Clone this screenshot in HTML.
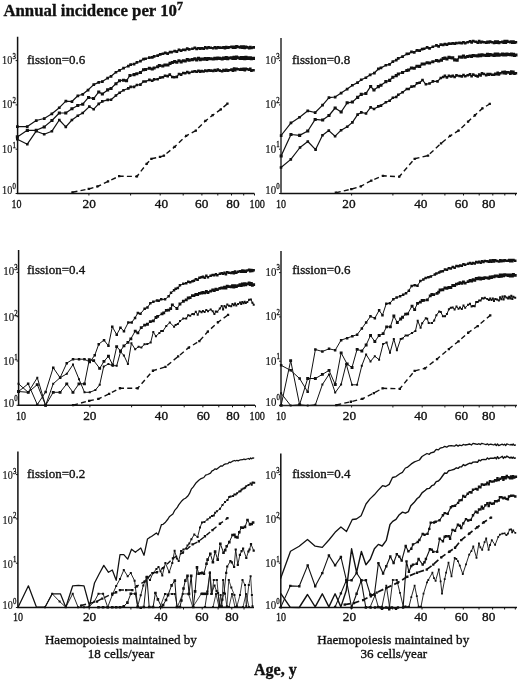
<!DOCTYPE html>
<html><head><meta charset="utf-8"><style>
html,body{margin:0;padding:0;background:#fff;}
body{width:520px;height:681px;position:relative;overflow:hidden;font-family:"Liberation Serif",serif;}
text{stroke:#111;stroke-width:0.35px;}
</style></head><body>
<svg width="520" height="681" viewBox="0 0 520 681" style="position:absolute;left:0;top:0;filter:grayscale(1);font-family:'Liberation Serif', serif" fill="#111">
<path d="M17.6 36.8V193.5H254.4" fill="none" stroke="#111" stroke-width="1.5"/>
<path d="M17.6 193.5h-2M17.6 149.2h-2M17.6 104.9h-2M17.6 60.6h-2M88.9 193.5v2M130.6 193.5v2M160.2 193.5v2M183.2 193.5v2M201.9 193.5v2M217.8 193.5v2M231.5 193.5v2M243.7 193.5v2M254.5 193.5v2" stroke="#111" stroke-width="1"/>
<path d="M18.6 250V405.3H255" fill="none" stroke="#111" stroke-width="1.5"/>
<path d="M18.6 405.3h-2M18.6 361h-2M18.6 316.7h-2M18.6 272.4h-2M89.9 405.3v2M131.6 405.3v2M161.2 405.3v2M184.2 405.3v2M202.9 405.3v2M218.8 405.3v2M232.5 405.3v2M244.7 405.3v2M255.5 405.3v2" stroke="#111" stroke-width="1"/>
<path d="M17.9 451.5V607.5H254" fill="none" stroke="#111" stroke-width="1.5"/>
<path d="M17.9 607.5h-2M17.9 563.2h-2M17.9 518.9h-2M17.9 474.6h-2M89.2 607.5v2M130.9 607.5v2M160.5 607.5v2M183.5 607.5v2M202.2 607.5v2M218.1 607.5v2M231.8 607.5v2M244 607.5v2" stroke="#111" stroke-width="1"/>
<path d="M280.8 453.5V607.5H517" fill="none" stroke="#111" stroke-width="1.5"/>
<path d="M280.8 607.5h-2M280.8 563.2h-2M280.8 518.9h-2M280.8 474.6h-2M351.4 607.5v2M392.7 607.5v2M422 607.5v2M444.7 607.5v2M463.3 607.5v2M479 607.5v2M492.6 607.5v2M504.6 607.5v2M515.3 607.5v2" stroke="#111" stroke-width="1"/>
<path d="M281 38V193.5H517" fill="none" stroke="#111" stroke-width="1.5"/>
<path d="M281 193.5h-2M281 149.2h-2M281 104.9h-2M281 60.6h-2M351.6 193.5v2M392.9 193.5v2M422.2 193.5v2M444.9 193.5v2M463.5 193.5v2M479.2 193.5v2M492.8 193.5v2M504.8 193.5v2M515.5 193.5v2" stroke="#111" stroke-width="1"/>
<path d="M281 38V193" stroke="#666" stroke-width="1.7"/>
<path d="M281 251V405.5H517" fill="none" stroke="#222" stroke-width="1.5"/>
<path d="M281 405.5h-2M281 361.2h-2M281 316.9h-2M281 272.6h-2M351.6 405.5v2M392.9 405.5v2M422.2 405.5v2M444.9 405.5v2M463.5 405.5v2M479.2 405.5v2M492.8 405.5v2M504.8 405.5v2M515.5 405.5v2" stroke="#222" stroke-width="1"/>
<polyline points="17.3,126.6 27.3,126.6 36.2,120.5 44.2,118.5 51.9,113.8 59.3,107.7 65.8,101.1 71.9,101.5 77.8,95.8 82.7,94.3 88,90 93.7,84.6 98.7,82.4 102.3,81.5 107.7,78 111,76.3 115.9,72.3 119.6,70.3 123.5,68.2 128.3,66 130.6,64.5 134,64.1 136.9,62.5 140.4,61.2 143.5,59.1 145.6,58.7 149.4,57.5 152.2,57.4 154.2,56.4 157.6,55.6 160.2,54.4 162.9,53.8 165.2,52.9 167.7,53.5 170,52.2 171.5,52.1 174.6,51.2 176.8,51.6 179,49.8 181.1,50.7 183.3,49.7 185.2,49.9 187.2,48.5 189.2,49.3 192.4,48.8 194.8,48 196.7,48.9 198.5,48.2 200.2,48.6 201.6,48.3 203.6,48.5 205.3,47.4 207,48.2 208.6,47.3 210.7,47.7 213.3,48.2 214.8,47.3 216.3,48.1 217.8,47.4 219.8,47.6 222.1,47.7 223.5,47.2 224.9,48.1 226.3,47 227.6,47.8 229,47.4 231.5,46.8 232.8,47.7 234.1,46.8 235.3,47.8 236.6,46.5 238.1,47 240.2,47.4 241.3,46.6 242.5,47.7 243.7,46.5 244.8,47.9 245.9,47 247.3,47.4 249.2,48.2 250.3,47.2 251.4,47.8 253.7,47.4" fill="none" stroke="#111" stroke-width="1.2" stroke-linejoin="round"/>
<path d="M16 125.2h2.7v2.7h-2.7zM25.9 125.2h2.7v2.7h-2.7zM34.9 119.2h2.7v2.7h-2.7zM42.9 117.2h2.7v2.7h-2.7zM50.5 112.5h2.7v2.7h-2.7zM57.9 106.4h2.7v2.7h-2.7zM64.5 99.8h2.7v2.7h-2.7zM70.6 100.2h2.7v2.7h-2.7zM76.5 94.5h2.7v2.7h-2.7zM81.4 93h2.7v2.7h-2.7zM86.7 88.7h2.7v2.7h-2.7zM92.4 83.2h2.7v2.7h-2.7zM97.4 81.1h2.7v2.7h-2.7zM101 80.2h2.7v2.7h-2.7zM106.3 76.7h2.7v2.7h-2.7zM109.7 75h2.7v2.7h-2.7zM114.6 70.9h2.7v2.7h-2.7zM118.2 69h2.7v2.7h-2.7zM122.2 66.8h2.7v2.7h-2.7zM127 64.7h2.7v2.7h-2.7zM129.3 63.2h2.7v2.7h-2.7zM132.7 62.7h2.7v2.7h-2.7zM135.6 61.1h2.7v2.7h-2.7zM139.1 59.8h2.7v2.7h-2.7zM142.2 57.8h2.7v2.7h-2.7zM144.2 57.4h2.7v2.7h-2.7zM148 56.2h2.7v2.7h-2.7zM150.9 56h2.7v2.7h-2.7zM152.8 55h2.7v2.7h-2.7zM156.3 54.2h2.7v2.7h-2.7zM158.9 53h2.7v2.7h-2.7zM161.6 52.4h2.7v2.7h-2.7zM163.9 51.6h2.7v2.7h-2.7zM166.3 52.2h2.7v2.7h-2.7zM168.7 50.8h2.7v2.7h-2.7zM170.2 50.8h2.7v2.7h-2.7zM173.3 49.8h2.7v2.7h-2.7zM175.5 50.2h2.7v2.7h-2.7zM177.6 48.5h2.7v2.7h-2.7zM179.8 49.3h2.7v2.7h-2.7zM182 48.4h2.7v2.7h-2.7zM183.9 48.6h2.7v2.7h-2.7zM185.9 47.2h2.7v2.7h-2.7zM187.8 48h2.7v2.7h-2.7zM191.1 47.4h2.7v2.7h-2.7zM193.5 46.6h2.7v2.7h-2.7zM195.3 47.6h2.7v2.7h-2.7zM197.1 46.9h2.7v2.7h-2.7zM198.9 47.3h2.7v2.7h-2.7zM200.2 46.9h2.7v2.7h-2.7zM202.3 47.2h2.7v2.7h-2.7zM204 46h2.7v2.7h-2.7zM205.6 46.9h2.7v2.7h-2.7zM207.2 46h2.7v2.7h-2.7zM209.3 46.4h2.7v2.7h-2.7zM211.9 46.9h2.7v2.7h-2.7zM213.5 45.9h2.7v2.7h-2.7zM215 46.8h2.7v2.7h-2.7zM216.5 46.1h2.7v2.7h-2.7zM218.5 46.2h2.7v2.7h-2.7zM220.8 46.4h2.7v2.7h-2.7zM222.2 45.9h2.7v2.7h-2.7zM223.6 46.7h2.7v2.7h-2.7zM224.9 45.7h2.7v2.7h-2.7zM226.3 46.4h2.7v2.7h-2.7zM227.7 46h2.7v2.7h-2.7zM230.2 45.4h2.7v2.7h-2.7zM231.5 46.3h2.7v2.7h-2.7zM232.7 45.5h2.7v2.7h-2.7zM234 46.4h2.7v2.7h-2.7zM235.2 45.1h2.7v2.7h-2.7zM236.8 45.6h2.7v2.7h-2.7zM238.8 46.1h2.7v2.7h-2.7zM240 45.3h2.7v2.7h-2.7zM241.2 46.3h2.7v2.7h-2.7zM242.3 45.2h2.7v2.7h-2.7zM243.4 46.6h2.7v2.7h-2.7zM244.6 45.6h2.7v2.7h-2.7zM246 46h2.7v2.7h-2.7zM247.9 46.8h2.7v2.7h-2.7zM249 45.8h2.7v2.7h-2.7zM250 46.5h2.7v2.7h-2.7zM252.3 46h2.7v2.7h-2.7z" fill="#111"/>
<polyline points="17.3,136.9 27.3,130.3 36.2,130.3 44.2,126.9 51.9,120.5 59.3,113 65.8,113 71.9,108.8 77.8,105.4 82.7,104.2 88.5,97.4 93.6,98.6 98.8,91.9 102.3,94 107.7,89.9 111,88.4 115.9,83.7 119.6,80.7 123.5,80.2 126.5,80.7 130,75.5 134,74.6 136.9,73.7 140.4,72.5 143.5,69.8 145.6,69.4 149.4,68.3 152.2,69 154.2,68 157.6,66.8 159.4,65.6 162.8,65.9 165,65.1 168,65.1 170,63.4 172.4,62.5 174.6,61.6 176.8,62.2 179,60.7 181.1,61.8 183.3,60.7 185.2,60.9 187.2,59.6 189.2,60.2 192.4,59.6 194.8,58.8 196.7,59.8 198.5,58.3 200.2,59.7 201.6,58.9 203.6,59.2 205.3,58.4 207,59.4 208.6,58.6 210.7,58.7 213.3,59 214.8,58.3 216.3,58.7 217.8,58.2 219.8,58.3 222.1,58.9 223.5,57.9 224.9,58.5 226.3,57.7 227.6,58.8 229,58 231.5,57.7 232.8,58.4 234.1,57.4 235.3,58.6 236.6,57.1 238.1,57.8 240.2,58.6 241.3,57.6 242.5,58.4 243.7,57.6 244.8,58.7 245.9,57.3 247,58.3 248.1,57.9 249.2,58.5 250.3,57.9 251.4,58.7 253.5,58.3" fill="none" stroke="#111" stroke-width="1.2" stroke-linejoin="round"/>
<path d="M15.8 135.3h3.1v3.1h-3.1zM25.8 128.8h3.1v3.1h-3.1zM34.7 128.8h3.1v3.1h-3.1zM42.7 125.4h3.1v3.1h-3.1zM50.4 119h3.1v3.1h-3.1zM57.8 111.5h3.1v3.1h-3.1zM64.2 111.5h3.1v3.1h-3.1zM70.4 107.2h3.1v3.1h-3.1zM76.2 103.9h3.1v3.1h-3.1zM81.2 102.7h3.1v3.1h-3.1zM87 95.9h3.1v3.1h-3.1zM92 97h3.1v3.1h-3.1zM97.2 90.4h3.1v3.1h-3.1zM100.8 92.5h3.1v3.1h-3.1zM106.1 88.3h3.1v3.1h-3.1zM109.5 86.9h3.1v3.1h-3.1zM114.4 82.2h3.1v3.1h-3.1zM118 79.2h3.1v3.1h-3.1zM122 78.7h3.1v3.1h-3.1zM125 79.2h3.1v3.1h-3.1zM128.4 74h3.1v3.1h-3.1zM132.5 73.1h3.1v3.1h-3.1zM135.3 72.2h3.1v3.1h-3.1zM138.9 71h3.1v3.1h-3.1zM142 68.2h3.1v3.1h-3.1zM144 67.9h3.1v3.1h-3.1zM147.8 66.7h3.1v3.1h-3.1zM150.7 67.5h3.1v3.1h-3.1zM152.6 66.5h3.1v3.1h-3.1zM156.1 65.2h3.1v3.1h-3.1zM157.8 64h3.1v3.1h-3.1zM161.2 64.4h3.1v3.1h-3.1zM163.4 63.5h3.1v3.1h-3.1zM166.4 63.5h3.1v3.1h-3.1zM168.5 61.8h3.1v3.1h-3.1zM170.8 61h3.1v3.1h-3.1zM173.1 60.1h3.1v3.1h-3.1zM175.3 60.7h3.1v3.1h-3.1zM177.4 59.2h3.1v3.1h-3.1zM179.6 60.3h3.1v3.1h-3.1zM181.8 59.2h3.1v3.1h-3.1zM183.7 59.4h3.1v3.1h-3.1zM185.7 58.1h3.1v3.1h-3.1zM187.6 58.6h3.1v3.1h-3.1zM190.8 58.1h3.1v3.1h-3.1zM193.3 57.3h3.1v3.1h-3.1zM195.1 58.3h3.1v3.1h-3.1zM196.9 56.8h3.1v3.1h-3.1zM198.7 58.1h3.1v3.1h-3.1zM200 57.4h3.1v3.1h-3.1zM202.1 57.6h3.1v3.1h-3.1zM203.8 56.9h3.1v3.1h-3.1zM205.4 57.8h3.1v3.1h-3.1zM207 57h3.1v3.1h-3.1zM209.1 57.2h3.1v3.1h-3.1zM211.7 57.5h3.1v3.1h-3.1zM213.3 56.7h3.1v3.1h-3.1zM214.8 57.1h3.1v3.1h-3.1zM216.3 56.6h3.1v3.1h-3.1zM218.2 56.8h3.1v3.1h-3.1zM220.6 57.3h3.1v3.1h-3.1zM222 56.4h3.1v3.1h-3.1zM223.4 56.9h3.1v3.1h-3.1zM224.7 56.1h3.1v3.1h-3.1zM226.1 57.2h3.1v3.1h-3.1zM227.4 56.5h3.1v3.1h-3.1zM230 56.2h3.1v3.1h-3.1zM231.3 56.8h3.1v3.1h-3.1zM232.5 55.8h3.1v3.1h-3.1zM233.8 57h3.1v3.1h-3.1zM235 55.6h3.1v3.1h-3.1zM236.5 56.2h3.1v3.1h-3.1zM238.6 57h3.1v3.1h-3.1zM239.8 56h3.1v3.1h-3.1zM241 56.8h3.1v3.1h-3.1zM242.1 56h3.1v3.1h-3.1zM243.2 57.2h3.1v3.1h-3.1zM244.4 55.7h3.1v3.1h-3.1zM245.5 56.8h3.1v3.1h-3.1zM246.6 56.3h3.1v3.1h-3.1zM247.7 56.9h3.1v3.1h-3.1zM248.8 56.3h3.1v3.1h-3.1zM249.8 57.2h3.1v3.1h-3.1zM251.9 56.8h3.1v3.1h-3.1z" fill="#111"/>
<polyline points="17.3,139.2 27.3,144.2 36.2,131.2 44.2,134.3 51.9,131.2 59.3,120 65.8,126.9 71.9,120 77.8,115.8 82.7,113 89.3,106.6 93.7,109.2 98.7,103.9 102.3,101.4 107.7,99.9 111,99.7 115.9,95.5 119.6,92.8 123.5,90.2 128.3,88.4 130.6,86.9 134,86.9 136.9,85 140.4,84.6 143.5,81.5 145.6,81.5 149.4,79.9 152.2,80.7 154.2,79.4 157.6,79.3 160.2,77.6 162.9,77.2 165,75.7 167.7,76.1 169.8,74.6 172.3,77 174.1,77.2 176.8,76.9 179,74 181.1,74.6 183.3,73 185.2,73.3 187.2,72.1 189.2,72.9 192.4,71.7 194.8,71.3 196.7,71.7 198.5,70.9 200.2,71.6 201.6,71.1 203.6,71.5 205.3,70.6 207,71 208.6,70.4 210.7,70.6 213.3,70.9 214.8,70.1 216.3,70.8 217.8,69.6 219.8,70.6 222.1,71.3 223.5,70.1 224.9,70.8 226.3,69.8 227.6,70.8 229,70.2 231.5,69.6 232.8,70.8 234.1,68.6 235.3,70.2 236.6,68.8 238.1,69.3 240.2,69.6 241.3,69 242.5,69.8 243.7,68.8 244.8,70.2 245.9,68.9 247.3,69.3 249.2,69.8 250.3,68.7 251.4,70.6 253.5,70.2" fill="none" stroke="#111" stroke-width="1.2" stroke-linejoin="round"/>
<path d="M16 137.9h2.6v2.6h-2.6zM26 142.9h2.6v2.6h-2.6zM34.9 129.9h2.6v2.6h-2.6zM42.9 133h2.6v2.6h-2.6zM50.6 129.9h2.6v2.6h-2.6zM58 118.7h2.6v2.6h-2.6zM64.5 125.6h2.6v2.6h-2.6zM70.6 118.7h2.6v2.6h-2.6zM76.5 114.5h2.6v2.6h-2.6zM81.4 111.7h2.6v2.6h-2.6zM88 105.3h2.6v2.6h-2.6zM92.4 107.9h2.6v2.6h-2.6zM97.4 102.6h2.6v2.6h-2.6zM101 100.1h2.6v2.6h-2.6zM106.4 98.6h2.6v2.6h-2.6zM109.7 98.4h2.6v2.6h-2.6zM114.6 94.2h2.6v2.6h-2.6zM118.3 91.5h2.6v2.6h-2.6zM122.2 88.9h2.6v2.6h-2.6zM127 87.1h2.6v2.6h-2.6zM129.3 85.6h2.6v2.6h-2.6zM132.7 85.6h2.6v2.6h-2.6zM135.6 83.7h2.6v2.6h-2.6zM139.1 83.3h2.6v2.6h-2.6zM142.2 80.2h2.6v2.6h-2.6zM144.3 80.2h2.6v2.6h-2.6zM148.1 78.6h2.6v2.6h-2.6zM150.9 79.4h2.6v2.6h-2.6zM152.9 78.1h2.6v2.6h-2.6zM156.3 78h2.6v2.6h-2.6zM158.9 76.3h2.6v2.6h-2.6zM161.6 75.9h2.6v2.6h-2.6zM163.7 74.4h2.6v2.6h-2.6zM166.4 74.8h2.6v2.6h-2.6zM168.5 73.3h2.6v2.6h-2.6zM171 75.7h2.6v2.6h-2.6zM172.8 75.9h2.6v2.6h-2.6zM175.5 75.6h2.6v2.6h-2.6zM177.7 72.7h2.6v2.6h-2.6zM179.8 73.3h2.6v2.6h-2.6zM182 71.7h2.6v2.6h-2.6zM183.9 72h2.6v2.6h-2.6zM185.9 70.8h2.6v2.6h-2.6zM187.9 71.6h2.6v2.6h-2.6zM191.1 70.4h2.6v2.6h-2.6zM193.5 70h2.6v2.6h-2.6zM195.4 70.4h2.6v2.6h-2.6zM197.2 69.6h2.6v2.6h-2.6zM198.9 70.3h2.6v2.6h-2.6zM200.3 69.8h2.6v2.6h-2.6zM202.3 70.2h2.6v2.6h-2.6zM204 69.3h2.6v2.6h-2.6zM205.7 69.7h2.6v2.6h-2.6zM207.3 69.1h2.6v2.6h-2.6zM209.4 69.3h2.6v2.6h-2.6zM212 69.6h2.6v2.6h-2.6zM213.5 68.8h2.6v2.6h-2.6zM215 69.5h2.6v2.6h-2.6zM216.5 68.3h2.6v2.6h-2.6zM218.5 69.3h2.6v2.6h-2.6zM220.8 70h2.6v2.6h-2.6zM222.2 68.8h2.6v2.6h-2.6zM223.6 69.5h2.6v2.6h-2.6zM225 68.5h2.6v2.6h-2.6zM226.3 69.5h2.6v2.6h-2.6zM227.7 68.9h2.6v2.6h-2.6zM230.2 68.3h2.6v2.6h-2.6zM231.5 69.5h2.6v2.6h-2.6zM232.8 67.3h2.6v2.6h-2.6zM234 68.9h2.6v2.6h-2.6zM235.3 67.5h2.6v2.6h-2.6zM236.8 68h2.6v2.6h-2.6zM238.9 68.3h2.6v2.6h-2.6zM240 67.7h2.6v2.6h-2.6zM241.2 68.5h2.6v2.6h-2.6zM242.4 67.5h2.6v2.6h-2.6zM243.5 68.9h2.6v2.6h-2.6zM244.6 67.6h2.6v2.6h-2.6zM246 68h2.6v2.6h-2.6zM247.9 68.5h2.6v2.6h-2.6zM249 67.4h2.6v2.6h-2.6zM250.1 69.3h2.6v2.6h-2.6zM252.2 68.9h2.6v2.6h-2.6z" fill="#111"/>
<polyline points="72.5,192.3 88.8,189 97.5,186.5 108.1,181.3 119.2,176.2 136.9,176.5 146.7,163.8 151.3,158.8 160,157 164,155.6 174.6,146.9 186.2,135.8 195.8,130.6 205.4,121 212.7,115.2 220.8,109.4 227.5,103.7" fill="none" stroke="#111" stroke-width="1.4" stroke-linejoin="round" stroke-dasharray="5 3.2"/>
<path d="M71.3 191.2h2.3v2.3h-2.3zM87.6 187.8h2.3v2.3h-2.3zM96.3 185.3h2.3v2.3h-2.3zM106.9 180.2h2.3v2.3h-2.3zM118 175h2.3v2.3h-2.3zM135.8 175.3h2.3v2.3h-2.3zM145.5 162.7h2.3v2.3h-2.3zM150.2 157.7h2.3v2.3h-2.3zM158.8 155.8h2.3v2.3h-2.3zM162.8 154.4h2.3v2.3h-2.3zM173.4 145.8h2.3v2.3h-2.3zM185 134.7h2.3v2.3h-2.3zM194.7 129.4h2.3v2.3h-2.3zM204.2 119.8h2.3v2.3h-2.3zM211.5 114h2.3v2.3h-2.3zM219.7 108.2h2.3v2.3h-2.3zM226.3 102.5h2.3v2.3h-2.3z" fill="#111"/>
<polyline points="281.1,135.5 291,122.9 299.6,117.2 307.8,110.8 315.2,112.5 322.6,105.1 329,97.6 335.1,97 341.1,93 347.2,89 352.4,85.2 357.6,82.6 361.3,79.7 365.8,77.7 370.2,74.8 374.3,73 378.3,69 381,67.9 385.9,65.2 389.6,64.4 392.9,61.5 396.2,60.2 398.3,58.4 402.6,56.6 406.9,54 408.6,53.8 411.5,52 414.2,52.3 417,50.3 419.6,50.6 422.2,49.1 424.2,48.8 427.2,47.4 429.5,48.4 432.9,46.8 436.4,45.4 438.6,46.4 440.8,44.7 443.2,44.9 444.9,44 446.9,44.7 448.9,43.6 451.3,43.8 452.7,43.3 454.6,43.7 456.5,43.1 459.5,43 461.8,43.1 463.5,42.3 465.2,43.1 467.7,42.2 470,41.3 471.6,42.5 473.2,41.2 475.8,41.8 477.7,42.7 479.2,41.2 480.6,42.4 482,41.8 484,42.2 486.2,42.5 487.6,41.9 488.9,42.5 490.2,41.6 492.2,42.2 494,42.9 495.3,41.5 496.5,42.7 497.7,41.6 498.9,42.9 500.4,42.2 502.5,41.9 503.6,42.6 504.8,41.2 505.9,42.5 507,41.2 508.5,41.7 510.3,42.3 511.3,41.6 512.4,42.6 513.4,41.7 514.5,42.8 515.9,42.2" fill="none" stroke="#111" stroke-width="1.2" stroke-linejoin="round"/>
<path d="M279.8 134.2h2.7v2.7h-2.7zM289.6 121.6h2.7v2.7h-2.7zM298.2 115.9h2.7v2.7h-2.7zM306.4 109.5h2.7v2.7h-2.7zM313.8 111.2h2.7v2.7h-2.7zM321.2 103.8h2.7v2.7h-2.7zM327.6 96.2h2.7v2.7h-2.7zM333.8 95.7h2.7v2.7h-2.7zM339.8 91.7h2.7v2.7h-2.7zM345.8 87.7h2.7v2.7h-2.7zM351 83.9h2.7v2.7h-2.7zM356.2 81.2h2.7v2.7h-2.7zM359.9 78.4h2.7v2.7h-2.7zM364.5 76.4h2.7v2.7h-2.7zM368.8 73.5h2.7v2.7h-2.7zM373 71.7h2.7v2.7h-2.7zM377 67.6h2.7v2.7h-2.7zM379.6 66.6h2.7v2.7h-2.7zM384.5 63.9h2.7v2.7h-2.7zM388.2 63.1h2.7v2.7h-2.7zM391.5 60.2h2.7v2.7h-2.7zM394.9 58.8h2.7v2.7h-2.7zM396.9 57h2.7v2.7h-2.7zM401.2 55.2h2.7v2.7h-2.7zM405.5 52.6h2.7v2.7h-2.7zM407.2 52.4h2.7v2.7h-2.7zM410.1 50.6h2.7v2.7h-2.7zM412.9 51h2.7v2.7h-2.7zM415.6 49h2.7v2.7h-2.7zM418.3 49.2h2.7v2.7h-2.7zM420.8 47.8h2.7v2.7h-2.7zM422.8 47.4h2.7v2.7h-2.7zM425.8 46.1h2.7v2.7h-2.7zM428.2 47h2.7v2.7h-2.7zM431.5 45.4h2.7v2.7h-2.7zM435.1 44.1h2.7v2.7h-2.7zM437.3 45.1h2.7v2.7h-2.7zM439.4 43.3h2.7v2.7h-2.7zM441.8 43.5h2.7v2.7h-2.7zM443.6 42.7h2.7v2.7h-2.7zM445.6 43.3h2.7v2.7h-2.7zM447.6 42.3h2.7v2.7h-2.7zM449.9 42.4h2.7v2.7h-2.7zM451.4 41.9h2.7v2.7h-2.7zM453.3 42.3h2.7v2.7h-2.7zM455.1 41.8h2.7v2.7h-2.7zM458.1 41.6h2.7v2.7h-2.7zM460.4 41.8h2.7v2.7h-2.7zM462.1 40.9h2.7v2.7h-2.7zM463.8 41.7h2.7v2.7h-2.7zM466.3 40.9h2.7v2.7h-2.7zM468.7 40h2.7v2.7h-2.7zM470.3 41.1h2.7v2.7h-2.7zM471.8 39.8h2.7v2.7h-2.7zM474.4 40.4h2.7v2.7h-2.7zM476.4 41.3h2.7v2.7h-2.7zM477.8 39.8h2.7v2.7h-2.7zM479.3 41.1h2.7v2.7h-2.7zM480.7 40.5h2.7v2.7h-2.7zM482.6 40.9h2.7v2.7h-2.7zM484.9 41.2h2.7v2.7h-2.7zM486.2 40.6h2.7v2.7h-2.7zM487.5 41.1h2.7v2.7h-2.7zM488.8 40.3h2.7v2.7h-2.7zM490.8 40.9h2.7v2.7h-2.7zM492.7 41.6h2.7v2.7h-2.7zM493.9 40.2h2.7v2.7h-2.7zM495.2 41.3h2.7v2.7h-2.7zM496.4 40.3h2.7v2.7h-2.7zM497.6 41.5h2.7v2.7h-2.7zM499 40.9h2.7v2.7h-2.7zM501.1 40.5h2.7v2.7h-2.7zM502.3 41.2h2.7v2.7h-2.7zM503.4 39.8h2.7v2.7h-2.7zM504.5 41.2h2.7v2.7h-2.7zM505.7 39.8h2.7v2.7h-2.7zM507.1 40.4h2.7v2.7h-2.7zM508.9 40.9h2.7v2.7h-2.7zM510 40.3h2.7v2.7h-2.7zM511 41.3h2.7v2.7h-2.7zM512.1 40.3h2.7v2.7h-2.7zM513.1 41.4h2.7v2.7h-2.7zM514.5 40.9h2.7v2.7h-2.7z" fill="#111"/>
<polyline points="281.1,156.1 291,134.5 299.6,135.4 307.8,131 315.2,119.4 322.6,120.1 329,115.5 335.1,108 341.1,112 347.2,102.8 352.4,102.1 357.6,97.3 361.3,94.4 365.8,93.6 370.6,86.6 374,90 378.3,86.6 381,85.2 385.9,81.7 389.6,80.3 392.9,77.3 396.2,75.7 398.3,73.9 402.6,72.4 406.9,70.5 408.6,70.1 411.5,67.9 414.2,68.2 417,66.3 419.6,66.3 422.2,64 424.2,64.1 427.2,62.7 429.5,63.1 432.9,61.8 436.4,60.6 438.6,60.9 441.5,60.1 443.2,58.5 444.9,58.2 446.9,58.9 448.9,57.4 451.3,57.7 452.7,57.8 454.6,59.8 457.1,60.1 459.5,56.9 461.8,57.2 463.5,55.9 465.2,57.2 467.7,56.4 470,55.9 471.6,56.4 473.2,55.6 475.8,55.7 477.7,55.9 479.2,55 480.6,55.7 482,54.9 484,55.2 486.2,55.4 487.6,54.3 488.9,55.4 490.2,54.5 492.2,54.9 494,55.4 495.3,54.1 496.5,55.2 497.7,54 498.9,55.2 500.4,54.7 502.5,54.1 503.6,55.1 504.8,54.4 505.9,54.9 507,54.2 508.5,54.4 510.3,54.7 511.3,53.9 512.4,54.9 513.4,54.3 514.5,55.4 515.9,54.9" fill="none" stroke="#111" stroke-width="1.2" stroke-linejoin="round"/>
<path d="M279.6 154.5h3.1v3.1h-3.1zM289.4 132.9h3.1v3.1h-3.1zM298.1 133.8h3.1v3.1h-3.1zM306.2 129.4h3.1v3.1h-3.1zM313.6 117.9h3.1v3.1h-3.1zM321.1 118.5h3.1v3.1h-3.1zM327.4 114h3.1v3.1h-3.1zM333.6 106.5h3.1v3.1h-3.1zM339.6 110.5h3.1v3.1h-3.1zM345.6 101.2h3.1v3.1h-3.1zM350.8 100.5h3.1v3.1h-3.1zM356.1 95.8h3.1v3.1h-3.1zM359.7 92.8h3.1v3.1h-3.1zM364.3 92h3.1v3.1h-3.1zM369.1 85h3.1v3.1h-3.1zM372.4 88.5h3.1v3.1h-3.1zM376.8 85.1h3.1v3.1h-3.1zM379.4 83.7h3.1v3.1h-3.1zM384.3 80.1h3.1v3.1h-3.1zM388.1 78.8h3.1v3.1h-3.1zM391.3 75.7h3.1v3.1h-3.1zM394.7 74.1h3.1v3.1h-3.1zM396.8 72.4h3.1v3.1h-3.1zM401 70.9h3.1v3.1h-3.1zM405.3 69h3.1v3.1h-3.1zM407 68.5h3.1v3.1h-3.1zM409.9 66.4h3.1v3.1h-3.1zM412.7 66.7h3.1v3.1h-3.1zM415.4 64.7h3.1v3.1h-3.1zM418.1 64.8h3.1v3.1h-3.1zM420.6 62.4h3.1v3.1h-3.1zM422.6 62.5h3.1v3.1h-3.1zM425.6 61.2h3.1v3.1h-3.1zM428 61.5h3.1v3.1h-3.1zM431.3 60.2h3.1v3.1h-3.1zM434.9 59h3.1v3.1h-3.1zM437.1 59.4h3.1v3.1h-3.1zM439.9 58.6h3.1v3.1h-3.1zM441.6 57h3.1v3.1h-3.1zM443.4 56.6h3.1v3.1h-3.1zM445.4 57.4h3.1v3.1h-3.1zM447.4 55.8h3.1v3.1h-3.1zM449.8 56.2h3.1v3.1h-3.1zM451.2 56.3h3.1v3.1h-3.1zM453.1 58.3h3.1v3.1h-3.1zM455.6 58.6h3.1v3.1h-3.1zM457.9 55.4h3.1v3.1h-3.1zM460.2 55.6h3.1v3.1h-3.1zM461.9 54.4h3.1v3.1h-3.1zM463.6 55.7h3.1v3.1h-3.1zM466.1 54.9h3.1v3.1h-3.1zM468.5 54.4h3.1v3.1h-3.1zM470.1 54.8h3.1v3.1h-3.1zM471.6 54h3.1v3.1h-3.1zM474.2 54.2h3.1v3.1h-3.1zM476.2 54.3h3.1v3.1h-3.1zM477.6 53.4h3.1v3.1h-3.1zM479.1 54.2h3.1v3.1h-3.1zM480.5 53.3h3.1v3.1h-3.1zM482.4 53.7h3.1v3.1h-3.1zM484.7 53.8h3.1v3.1h-3.1zM486 52.8h3.1v3.1h-3.1zM487.3 53.9h3.1v3.1h-3.1zM488.6 53h3.1v3.1h-3.1zM490.6 53.4h3.1v3.1h-3.1zM492.5 53.8h3.1v3.1h-3.1zM493.7 52.5h3.1v3.1h-3.1zM495 53.7h3.1v3.1h-3.1zM496.2 52.5h3.1v3.1h-3.1zM497.4 53.7h3.1v3.1h-3.1zM498.8 53.2h3.1v3.1h-3.1zM500.9 52.6h3.1v3.1h-3.1zM502.1 53.5h3.1v3.1h-3.1zM503.2 52.8h3.1v3.1h-3.1zM504.3 53.4h3.1v3.1h-3.1zM505.5 52.6h3.1v3.1h-3.1zM506.9 52.9h3.1v3.1h-3.1zM508.7 53.1h3.1v3.1h-3.1zM509.8 52.4h3.1v3.1h-3.1zM510.8 53.4h3.1v3.1h-3.1zM511.9 52.7h3.1v3.1h-3.1zM512.9 53.9h3.1v3.1h-3.1zM514.4 53.4h3.1v3.1h-3.1z" fill="#111"/>
<polyline points="281,167.5 290.8,159.4 300,147.5 307.8,141.5 315.6,149.6 322.5,135.2 328.8,130.6 335.1,136.2 341.1,130.2 347.2,126.7 352.4,122.4 357.6,114.6 361.3,112.4 366,113.5 370.6,107.3 374,109 378.3,106.4 381,105.6 385.9,102.2 389.6,100.7 392.9,97.7 396.2,97 398.3,94.7 402.6,92.2 406.9,89 408.6,89 411.5,86.6 414.2,86.3 417,83.3 419.6,82.8 422.5,80 425.9,84.3 429.5,83.5 432.9,81.4 437.5,81.4 440.8,78 443.2,77 444.9,75.9 446.9,77.4 448.9,75.9 451.3,76.5 452.7,75.7 454.6,77 456.5,75.4 459.5,76 461.8,76.4 463.5,75 465.2,76.2 467.7,75.3 470,74.4 471.6,76.3 473.2,74.6 475.8,75.7 477.7,76.4 479.2,74.6 480.6,75.4 482,73.4 484,74 486.2,75.2 487.6,74 488.9,74.8 490.2,74 492.2,74.8 494,74.7 495.3,73.8 496.5,74.2 497.7,72.9 498.9,74.4 500.4,73.2 502.5,72 503.6,73.2 504.8,71.9 505.9,73.5 507,72.2 508.5,72.4 510.3,73.6 511.3,71.6 512.4,73.2 513.4,71.9 514.5,73.6 515.9,73.2" fill="none" stroke="#111" stroke-width="1.2" stroke-linejoin="round"/>
<path d="M279.7 166.2h2.6v2.6h-2.6zM289.5 158.1h2.6v2.6h-2.6zM298.7 146.2h2.6v2.6h-2.6zM306.5 140.2h2.6v2.6h-2.6zM314.3 148.3h2.6v2.6h-2.6zM321.2 133.9h2.6v2.6h-2.6zM327.5 129.3h2.6v2.6h-2.6zM333.8 134.9h2.6v2.6h-2.6zM339.8 128.9h2.6v2.6h-2.6zM345.9 125.4h2.6v2.6h-2.6zM351.1 121.1h2.6v2.6h-2.6zM356.3 113.3h2.6v2.6h-2.6zM360 111.1h2.6v2.6h-2.6zM364.7 112.2h2.6v2.6h-2.6zM369.3 106h2.6v2.6h-2.6zM372.7 107.7h2.6v2.6h-2.6zM377 105.1h2.6v2.6h-2.6zM379.7 104.3h2.6v2.6h-2.6zM384.6 100.9h2.6v2.6h-2.6zM388.3 99.4h2.6v2.6h-2.6zM391.6 96.4h2.6v2.6h-2.6zM394.9 95.7h2.6v2.6h-2.6zM397 93.4h2.6v2.6h-2.6zM401.3 90.9h2.6v2.6h-2.6zM405.6 87.7h2.6v2.6h-2.6zM407.3 87.7h2.6v2.6h-2.6zM410.2 85.3h2.6v2.6h-2.6zM412.9 85h2.6v2.6h-2.6zM415.7 82h2.6v2.6h-2.6zM418.3 81.5h2.6v2.6h-2.6zM421.2 78.7h2.6v2.6h-2.6zM424.6 83h2.6v2.6h-2.6zM428.2 82.2h2.6v2.6h-2.6zM431.6 80.1h2.6v2.6h-2.6zM436.2 80.1h2.6v2.6h-2.6zM439.5 76.7h2.6v2.6h-2.6zM441.9 75.7h2.6v2.6h-2.6zM443.6 74.6h2.6v2.6h-2.6zM445.6 76.1h2.6v2.6h-2.6zM447.6 74.6h2.6v2.6h-2.6zM450 75.2h2.6v2.6h-2.6zM451.4 74.4h2.6v2.6h-2.6zM453.3 75.7h2.6v2.6h-2.6zM455.2 74.1h2.6v2.6h-2.6zM458.2 74.7h2.6v2.6h-2.6zM460.5 75.1h2.6v2.6h-2.6zM462.2 73.7h2.6v2.6h-2.6zM463.9 74.9h2.6v2.6h-2.6zM466.4 74h2.6v2.6h-2.6zM468.7 73.1h2.6v2.6h-2.6zM470.3 75h2.6v2.6h-2.6zM471.9 73.3h2.6v2.6h-2.6zM474.5 74.4h2.6v2.6h-2.6zM476.4 75.1h2.6v2.6h-2.6zM477.9 73.3h2.6v2.6h-2.6zM479.3 74.1h2.6v2.6h-2.6zM480.7 72.1h2.6v2.6h-2.6zM482.7 72.7h2.6v2.6h-2.6zM484.9 73.9h2.6v2.6h-2.6zM486.3 72.7h2.6v2.6h-2.6zM487.6 73.5h2.6v2.6h-2.6zM488.9 72.7h2.6v2.6h-2.6zM490.9 73.5h2.6v2.6h-2.6zM492.7 73.4h2.6v2.6h-2.6zM494 72.5h2.6v2.6h-2.6zM495.2 72.9h2.6v2.6h-2.6zM496.4 71.6h2.6v2.6h-2.6zM497.6 73.1h2.6v2.6h-2.6zM499.1 71.9h2.6v2.6h-2.6zM501.2 70.7h2.6v2.6h-2.6zM502.3 71.9h2.6v2.6h-2.6zM503.5 70.6h2.6v2.6h-2.6zM504.6 72.2h2.6v2.6h-2.6zM505.7 70.9h2.6v2.6h-2.6zM507.2 71.1h2.6v2.6h-2.6zM509 72.3h2.6v2.6h-2.6zM510 70.3h2.6v2.6h-2.6zM511.1 71.9h2.6v2.6h-2.6zM512.1 70.6h2.6v2.6h-2.6zM513.2 72.3h2.6v2.6h-2.6zM514.6 71.9h2.6v2.6h-2.6z" fill="#111"/>
<polyline points="335.8,192.7 351.2,189.2 360.8,186.3 371.3,180.6 382.9,175.8 399.2,176.7 414.6,158.8 428,155.6 441,143.4 450,136 458.5,130.7 468,121.7 474.9,115.3 482.3,108.5 489.7,104" fill="none" stroke="#111" stroke-width="1.4" stroke-linejoin="round" stroke-dasharray="5 3.2"/>
<path d="M334.7 191.5h2.3v2.3h-2.3zM350.1 188h2.3v2.3h-2.3zM359.7 185.2h2.3v2.3h-2.3zM370.2 179.4h2.3v2.3h-2.3zM381.8 174.7h2.3v2.3h-2.3zM398.1 175.5h2.3v2.3h-2.3zM413.5 157.7h2.3v2.3h-2.3zM426.9 154.4h2.3v2.3h-2.3zM439.9 142.2h2.3v2.3h-2.3zM448.9 134.8h2.3v2.3h-2.3zM457.4 129.5h2.3v2.3h-2.3zM466.9 120.5h2.3v2.3h-2.3zM473.8 114.1h2.3v2.3h-2.3zM481.2 107.3h2.3v2.3h-2.3zM488.6 102.8h2.3v2.3h-2.3z" fill="#111"/>
<polyline points="18.5,391.5 28.2,383.8 37.3,404.6 45.6,392 53.2,367.7 60.1,377.7 66.8,363.1 73,359.2 79,359.2 84.5,359.2 89.8,362 94.7,355.4 98.8,344.1 104,340.1 108.4,345.8 112.3,326.8 116.7,334.6 120.5,327.7 123.9,331.1 128.3,322.5 131.7,322.5 135,317.9 137.8,313 140.4,313.8 144.7,308.7 147.5,307.4 150.4,303.2 153.3,301.7 157,300.5 158.6,300.6 161.2,299.4 165,299.4 168.7,296.3 171,292.8 174.1,290.2 175.6,288.8 177.8,288.1 180,285.3 183.3,283.8 186.2,283.1 188.2,281.7 190.2,282.3 192.4,281.1 194,280.7 195.8,279.2 197.7,279.7 199.5,277.7 201.6,277.4 202.9,276.9 204.6,277.8 206.3,275.6 208,277.1 210.7,275.6 212.7,274.9 214.3,275.3 215.8,274.4 217.3,275.1 219.8,273.8 221.7,273.2 223.1,273.8 224.5,272.8 225.9,274.1 227.3,272.2 229,272.9 231.2,273.1 232.5,272.2 233.8,273.3 235.1,271.6 236.3,272.9 238.1,271.9 240,271.3 241.2,271.7 242.3,270.5 243.5,271.6 244.7,270.6 245.8,271.7 247.3,270.5 249.1,269.7 250.2,271.2 251.3,270 252.4,271.1 253.7,270.1" fill="none" stroke="#111" stroke-width="1.0" stroke-linejoin="round"/>
<path d="M17.2 390.2h2.5v2.5h-2.5zM26.9 382.6h2.5v2.5h-2.5zM36 403.4h2.5v2.5h-2.5zM44.4 390.8h2.5v2.5h-2.5zM52 366.4h2.5v2.5h-2.5zM58.9 376.4h2.5v2.5h-2.5zM65.5 361.9h2.5v2.5h-2.5zM71.8 357.9h2.5v2.5h-2.5zM77.8 357.9h2.5v2.5h-2.5zM83.2 357.9h2.5v2.5h-2.5zM88.5 360.8h2.5v2.5h-2.5zM93.5 354.1h2.5v2.5h-2.5zM97.5 342.9h2.5v2.5h-2.5zM102.8 338.9h2.5v2.5h-2.5zM107.2 344.6h2.5v2.5h-2.5zM111 325.6h2.5v2.5h-2.5zM115.5 333.4h2.5v2.5h-2.5zM119.2 326.4h2.5v2.5h-2.5zM122.7 329.9h2.5v2.5h-2.5zM127.1 321.2h2.5v2.5h-2.5zM130.4 321.2h2.5v2.5h-2.5zM133.8 316.7h2.5v2.5h-2.5zM136.6 311.8h2.5v2.5h-2.5zM139.2 312.6h2.5v2.5h-2.5zM143.4 307.4h2.5v2.5h-2.5zM146.2 306.2h2.5v2.5h-2.5zM149.1 302h2.5v2.5h-2.5zM152.1 300.4h2.5v2.5h-2.5zM155.8 299.2h2.5v2.5h-2.5zM157.4 299.4h2.5v2.5h-2.5zM160 298.1h2.5v2.5h-2.5zM163.8 298.1h2.5v2.5h-2.5zM167.4 295.1h2.5v2.5h-2.5zM169.8 291.6h2.5v2.5h-2.5zM172.8 288.9h2.5v2.5h-2.5zM174.4 287.5h2.5v2.5h-2.5zM176.6 286.8h2.5v2.5h-2.5zM178.7 284.1h2.5v2.5h-2.5zM182.1 282.6h2.5v2.5h-2.5zM185 281.9h2.5v2.5h-2.5zM187 280.4h2.5v2.5h-2.5zM188.9 281.1h2.5v2.5h-2.5zM191.2 279.9h2.5v2.5h-2.5zM192.7 279.4h2.5v2.5h-2.5zM194.6 278h2.5v2.5h-2.5zM196.4 278.4h2.5v2.5h-2.5zM198.2 276.4h2.5v2.5h-2.5zM200.3 276.1h2.5v2.5h-2.5zM201.7 275.6h2.5v2.5h-2.5zM203.4 276.5h2.5v2.5h-2.5zM205.1 274.4h2.5v2.5h-2.5zM206.7 275.9h2.5v2.5h-2.5zM209.4 274.4h2.5v2.5h-2.5zM211.5 273.7h2.5v2.5h-2.5zM213 274.1h2.5v2.5h-2.5zM214.6 273.1h2.5v2.5h-2.5zM216.1 273.9h2.5v2.5h-2.5zM218.6 272.6h2.5v2.5h-2.5zM220.5 271.9h2.5v2.5h-2.5zM221.9 272.5h2.5v2.5h-2.5zM223.3 271.6h2.5v2.5h-2.5zM224.7 272.9h2.5v2.5h-2.5zM226 271h2.5v2.5h-2.5zM227.8 271.6h2.5v2.5h-2.5zM230 271.8h2.5v2.5h-2.5zM231.3 270.9h2.5v2.5h-2.5zM232.6 272.1h2.5v2.5h-2.5zM233.8 270.3h2.5v2.5h-2.5zM235.1 271.6h2.5v2.5h-2.5zM236.8 270.6h2.5v2.5h-2.5zM238.7 270.1h2.5v2.5h-2.5zM239.9 270.4h2.5v2.5h-2.5zM241.1 269.3h2.5v2.5h-2.5zM242.3 270.4h2.5v2.5h-2.5zM243.4 269.4h2.5v2.5h-2.5zM244.5 270.4h2.5v2.5h-2.5zM246.1 269.2h2.5v2.5h-2.5zM247.9 268.4h2.5v2.5h-2.5zM249 269.9h2.5v2.5h-2.5zM250.1 268.7h2.5v2.5h-2.5zM251.1 269.8h2.5v2.5h-2.5zM252.4 268.9h2.5v2.5h-2.5z" fill="#111"/>
<polyline points="18.5,391.5 28.2,392.3 37.3,384.6 45.6,405.4 53.2,392.3 60.1,392.3 66.8,383.8 73,392.3 79,383.8 84.5,383.8 89.3,359.7 93.7,360.6 99.7,368.3 104,361.4 108.4,356.2 112.7,364.9 116.7,346.7 120.5,351 123.9,345.8 127.9,342.4 130.8,338.9 135.2,331.1 137.8,332.9 141.2,327.7 144.7,325.1 147.5,324.3 150.4,321.7 153.3,320.8 156,317.6 157.7,316.4 162,313.8 163.8,312.9 166.3,310.4 168.7,310.1 170.6,308.7 172.3,304.8 176.9,308.5 180,304 183.3,301.2 186.2,299.8 188.2,297.9 190.2,297.7 192.4,295.7 194,295.6 195.8,294.4 197.7,294.5 199.5,293.4 201.6,293 202.9,292.4 204.6,292.8 206.3,291.6 208,292.5 210.7,291.1 212.7,290.1 214.3,290.6 215.8,289.2 217.3,289.6 219.8,288.4 221.7,287.8 223.1,288.2 224.5,287.3 225.9,288 227.3,286.3 229,286.6 231.2,286.7 232.5,285.6 233.8,287 235.1,285.6 236.3,286.6 238.1,285.6 240,284.7 241.2,285.6 242.3,283.9 243.5,285.1 244.7,283.7 245.8,284.8 247.3,283.8 249.1,283.1 250.2,284.7 251.3,283.5 252.4,285.3 253.7,284.7" fill="none" stroke="#111" stroke-width="1.0" stroke-linejoin="round"/>
<path d="M17.1 390.1h2.9v2.9h-2.9zM26.8 390.9h2.9v2.9h-2.9zM35.8 383.2h2.9v2.9h-2.9zM44.1 403.9h2.9v2.9h-2.9zM51.8 390.9h2.9v2.9h-2.9zM58.6 390.9h2.9v2.9h-2.9zM65.3 382.4h2.9v2.9h-2.9zM71.5 390.9h2.9v2.9h-2.9zM77.5 382.4h2.9v2.9h-2.9zM83 382.4h2.9v2.9h-2.9zM87.8 358.2h2.9v2.9h-2.9zM92.2 359.2h2.9v2.9h-2.9zM98.2 366.9h2.9v2.9h-2.9zM102.5 359.9h2.9v2.9h-2.9zM107 354.8h2.9v2.9h-2.9zM111.2 363.4h2.9v2.9h-2.9zM115.2 345.2h2.9v2.9h-2.9zM119 349.6h2.9v2.9h-2.9zM122.5 344.4h2.9v2.9h-2.9zM126.5 340.9h2.9v2.9h-2.9zM129.4 337.4h2.9v2.9h-2.9zM133.8 329.7h2.9v2.9h-2.9zM136.4 331.4h2.9v2.9h-2.9zM139.8 326.2h2.9v2.9h-2.9zM143.2 323.7h2.9v2.9h-2.9zM146 322.8h2.9v2.9h-2.9zM148.9 320.2h2.9v2.9h-2.9zM151.9 319.4h2.9v2.9h-2.9zM154.5 316.1h2.9v2.9h-2.9zM156.2 314.9h2.9v2.9h-2.9zM160.6 312.4h2.9v2.9h-2.9zM162.3 311.4h2.9v2.9h-2.9zM164.9 308.9h2.9v2.9h-2.9zM167.2 308.7h2.9v2.9h-2.9zM169.2 307.2h2.9v2.9h-2.9zM170.9 303.4h2.9v2.9h-2.9zM175.5 307.1h2.9v2.9h-2.9zM178.5 302.6h2.9v2.9h-2.9zM181.9 299.8h2.9v2.9h-2.9zM184.8 298.4h2.9v2.9h-2.9zM186.8 296.5h2.9v2.9h-2.9zM188.7 296.2h2.9v2.9h-2.9zM191 294.2h2.9v2.9h-2.9zM192.5 294.2h2.9v2.9h-2.9zM194.4 293h2.9v2.9h-2.9zM196.2 293h2.9v2.9h-2.9zM198 291.9h2.9v2.9h-2.9zM200.2 291.6h2.9v2.9h-2.9zM201.5 290.9h2.9v2.9h-2.9zM203.2 291.4h2.9v2.9h-2.9zM204.9 290.1h2.9v2.9h-2.9zM206.5 291h2.9v2.9h-2.9zM209.2 289.7h2.9v2.9h-2.9zM211.3 288.6h2.9v2.9h-2.9zM212.8 289.2h2.9v2.9h-2.9zM214.4 287.8h2.9v2.9h-2.9zM215.9 288.2h2.9v2.9h-2.9zM218.4 286.9h2.9v2.9h-2.9zM220.3 286.4h2.9v2.9h-2.9zM221.7 286.7h2.9v2.9h-2.9zM223.1 285.8h2.9v2.9h-2.9zM224.5 286.5h2.9v2.9h-2.9zM225.8 284.8h2.9v2.9h-2.9zM227.6 285.2h2.9v2.9h-2.9zM229.8 285.3h2.9v2.9h-2.9zM231.1 284.2h2.9v2.9h-2.9zM232.4 285.6h2.9v2.9h-2.9zM233.6 284.2h2.9v2.9h-2.9zM234.9 285.2h2.9v2.9h-2.9zM236.7 284.2h2.9v2.9h-2.9zM238.5 283.2h2.9v2.9h-2.9zM239.7 284.1h2.9v2.9h-2.9zM240.9 282.5h2.9v2.9h-2.9zM242.1 283.6h2.9v2.9h-2.9zM243.2 282.3h2.9v2.9h-2.9zM244.3 283.4h2.9v2.9h-2.9zM245.9 282.4h2.9v2.9h-2.9zM247.7 281.6h2.9v2.9h-2.9zM248.8 283.2h2.9v2.9h-2.9zM249.9 282h2.9v2.9h-2.9zM250.9 283.8h2.9v2.9h-2.9zM252.2 283.2h2.9v2.9h-2.9z" fill="#111"/>
<polyline points="18.5,383.8 28.2,392.3 37.3,377.7 45.6,405.4 53.2,383.8 60.1,377.7 66.8,373.8 73,364.6 79,379.2 84.5,392.3 89.8,392.3 95.4,390 99.7,384.8 103.7,366.6 108.4,364 112.7,365.7 116.7,365.7 120.5,351.9 123.9,355.4 127.9,364 131.4,343.3 135.2,349.3 138.6,346.7 141.4,347.5 144.5,344.2 147.3,344.1 150.7,342.4 153.3,332 155.9,336.3 159.4,332.9 161.2,331.1 162.9,331.1 166.3,326 169.8,322.5 174.1,326.8 175.6,325 177.8,324.1 180,321.1 183.3,318.6 186.2,318.6 188.2,315.3 190.2,315.7 192.4,314 194,314.2 195.8,311.7 197.7,314.7 199.5,311.2 201.6,312.2 202.9,311 204.6,312 206.3,309.9 208,311.3 210.7,309.4 212.7,311.3 214.4,314 215.8,311.5 217.3,311.8 219.8,308.5 221.7,306.1 223.1,309.4 224.5,305.9 225.9,307.5 227.3,304.5 229,305.8 231.2,306.2 232.5,304.1 233.8,305.2 235.1,303.6 236.3,305.4 238.1,303.9 240,302.4 241.2,304 242.3,301.9 243.5,303.2 244.7,301.8 245.8,302.9 247.3,302.1 249.1,299.7 250.9,299.4 252.4,302.7 253.7,304.8" fill="none" stroke="#111" stroke-width="1.0" stroke-linejoin="round"/>
<path d="M17.5 382.8h2v2h-2zM27.2 391.3h2v2h-2zM36.3 376.7h2v2h-2zM44.6 404.4h2v2h-2zM52.2 382.8h2v2h-2zM59.1 376.7h2v2h-2zM65.8 372.8h2v2h-2zM72 363.6h2v2h-2zM78 378.2h2v2h-2zM83.5 391.3h2v2h-2zM88.8 391.3h2v2h-2zM94.4 389h2v2h-2zM98.7 383.8h2v2h-2zM102.7 365.6h2v2h-2zM107.4 363h2v2h-2zM111.7 364.7h2v2h-2zM115.7 364.7h2v2h-2zM119.5 350.9h2v2h-2zM122.9 354.4h2v2h-2zM126.9 363h2v2h-2zM130.4 342.3h2v2h-2zM134.2 348.3h2v2h-2zM137.6 345.7h2v2h-2zM140.4 346.5h2v2h-2zM143.5 343.2h2v2h-2zM146.3 343.1h2v2h-2zM149.7 341.4h2v2h-2zM152.3 331h2v2h-2zM154.9 335.3h2v2h-2zM158.4 331.9h2v2h-2zM160.2 330.1h2v2h-2zM161.9 330.1h2v2h-2zM165.3 325h2v2h-2zM168.8 321.5h2v2h-2zM173.1 325.8h2v2h-2zM174.6 324h2v2h-2zM176.8 323.1h2v2h-2zM179 320.1h2v2h-2zM182.3 317.6h2v2h-2zM185.2 317.6h2v2h-2zM187.2 314.3h2v2h-2zM189.2 314.7h2v2h-2zM191.4 313h2v2h-2zM193 313.2h2v2h-2zM194.8 310.7h2v2h-2zM196.7 313.7h2v2h-2zM198.5 310.2h2v2h-2zM200.6 311.2h2v2h-2zM201.9 310h2v2h-2zM203.6 311h2v2h-2zM205.3 308.9h2v2h-2zM207 310.3h2v2h-2zM209.7 308.4h2v2h-2zM211.7 310.3h2v2h-2zM213.4 313h2v2h-2zM214.8 310.5h2v2h-2zM216.3 310.8h2v2h-2zM218.8 307.5h2v2h-2zM220.7 305.1h2v2h-2zM222.1 308.4h2v2h-2zM223.5 304.9h2v2h-2zM224.9 306.5h2v2h-2zM226.3 303.5h2v2h-2zM228 304.8h2v2h-2zM230.2 305.2h2v2h-2zM231.5 303.1h2v2h-2zM232.8 304.2h2v2h-2zM234.1 302.6h2v2h-2zM235.3 304.4h2v2h-2zM237.1 302.9h2v2h-2zM239 301.4h2v2h-2zM240.2 303h2v2h-2zM241.3 300.9h2v2h-2zM242.5 302.2h2v2h-2zM243.7 300.8h2v2h-2zM244.8 301.9h2v2h-2zM246.3 301.1h2v2h-2zM248.1 298.7h2v2h-2zM249.9 298.4h2v2h-2zM251.4 301.7h2v2h-2zM252.7 303.8h2v2h-2z" fill="#111"/>
<polyline points="73.1,405.1 89.2,400.8 98.5,398.9 109.2,393.8 120,388.2 137.7,388.2 152.9,370.7 165.5,366.9 178.2,356.4 188.8,347.5 199.4,341.1 207.8,331.6 218,322.2 228.1,314.9" fill="none" stroke="#111" stroke-width="1.4" stroke-linejoin="round" stroke-dasharray="5 3.2"/>
<path d="M71.9 404h2.3v2.3h-2.3zM88 399.7h2.3v2.3h-2.3zM97.3 397.8h2.3v2.3h-2.3zM108 392.7h2.3v2.3h-2.3zM118.8 387.1h2.3v2.3h-2.3zM136.5 387.1h2.3v2.3h-2.3zM151.8 369.6h2.3v2.3h-2.3zM164.3 365.8h2.3v2.3h-2.3zM177 355.2h2.3v2.3h-2.3zM187.7 346.4h2.3v2.3h-2.3zM198.2 340h2.3v2.3h-2.3zM206.7 330.5h2.3v2.3h-2.3zM216.8 321.1h2.3v2.3h-2.3zM226.9 313.8h2.3v2.3h-2.3z" fill="#111"/>
<polyline points="281.1,365.3 290.7,370.4 299.6,378.5 307.7,391.9 315.4,349.5 322.4,351.5 329,348.8 335.2,350.2 341.1,340.1 347.1,338.1 352.3,336.3 357.1,334.6 361.8,328.5 366.1,322.5 370.5,316.4 374.8,318.2 379.1,310.4 382.5,315.1 386.3,303.6 389.8,303.3 393.3,299.2 396.7,297.5 400.2,296.3 403.1,294.6 406,293.4 408.8,290.6 411.7,286 414.6,285.1 417.5,285.6 420.4,281 423.3,279.5 425.6,278 428.4,277.2 430.8,276.5 434.8,274.5 436.4,273.6 439.2,272.5 440.8,271.5 442.9,271.2 444.9,269.5 446.9,269.6 448.8,268.3 450.8,268.5 452.7,266.9 454.6,267.7 456.5,266 458.5,266.3 460,265.5 461.8,265.8 463.5,264.2 465.2,264.8 468.1,263.8 470,262.9 471.6,263.9 473.2,262.9 474.7,263.6 476.2,262 477.7,262.5 479.2,261.7 480.6,262.7 482,261.2 483.4,262 484.8,261 487.3,261.2 488.9,261.6 490.2,260.4 491.5,261.8 492.8,260.4 494,261.6 495.3,260.3 496.9,261 498.9,261.5 500.1,260.3 501.3,261.1 502.5,260.6 503.6,261 504.8,260.3 506.5,260.6 508.1,260.8 509.2,259.9 510.3,261.1 511.3,260 512.4,261.2 513.4,260 515.2,260.6" fill="none" stroke="#111" stroke-width="1.0" stroke-linejoin="round"/>
<path d="M279.9 364.1h2.5v2.5h-2.5zM289.4 369.1h2.5v2.5h-2.5zM298.4 377.2h2.5v2.5h-2.5zM306.4 390.6h2.5v2.5h-2.5zM314.1 348.2h2.5v2.5h-2.5zM321.1 350.2h2.5v2.5h-2.5zM327.8 347.6h2.5v2.5h-2.5zM333.9 348.9h2.5v2.5h-2.5zM339.9 338.9h2.5v2.5h-2.5zM345.9 336.9h2.5v2.5h-2.5zM351.1 335.1h2.5v2.5h-2.5zM355.9 333.4h2.5v2.5h-2.5zM360.6 327.2h2.5v2.5h-2.5zM364.9 321.2h2.5v2.5h-2.5zM369.2 315.1h2.5v2.5h-2.5zM373.6 316.9h2.5v2.5h-2.5zM377.9 309.1h2.5v2.5h-2.5zM381.2 313.9h2.5v2.5h-2.5zM385.1 302.4h2.5v2.5h-2.5zM388.6 302.1h2.5v2.5h-2.5zM392.1 297.9h2.5v2.5h-2.5zM395.4 296.2h2.5v2.5h-2.5zM398.9 295.1h2.5v2.5h-2.5zM401.9 293.4h2.5v2.5h-2.5zM404.8 292.1h2.5v2.5h-2.5zM407.6 289.4h2.5v2.5h-2.5zM410.4 284.8h2.5v2.5h-2.5zM413.4 283.9h2.5v2.5h-2.5zM416.2 284.4h2.5v2.5h-2.5zM419.1 279.8h2.5v2.5h-2.5zM422.1 278.2h2.5v2.5h-2.5zM424.4 276.8h2.5v2.5h-2.5zM427.1 275.9h2.5v2.5h-2.5zM429.6 275.2h2.5v2.5h-2.5zM433.6 273.2h2.5v2.5h-2.5zM435.2 272.3h2.5v2.5h-2.5zM437.9 271.2h2.5v2.5h-2.5zM439.5 270.2h2.5v2.5h-2.5zM441.6 270h2.5v2.5h-2.5zM443.7 268.2h2.5v2.5h-2.5zM445.7 268.4h2.5v2.5h-2.5zM447.6 267.1h2.5v2.5h-2.5zM449.6 267.3h2.5v2.5h-2.5zM451.5 265.7h2.5v2.5h-2.5zM453.4 266.5h2.5v2.5h-2.5zM455.2 264.8h2.5v2.5h-2.5zM457.2 265.1h2.5v2.5h-2.5zM458.8 264.2h2.5v2.5h-2.5zM460.5 264.6h2.5v2.5h-2.5zM462.2 263h2.5v2.5h-2.5zM463.9 263.6h2.5v2.5h-2.5zM466.9 262.6h2.5v2.5h-2.5zM468.8 261.7h2.5v2.5h-2.5zM470.4 262.6h2.5v2.5h-2.5zM471.9 261.7h2.5v2.5h-2.5zM473.5 262.3h2.5v2.5h-2.5zM475 260.7h2.5v2.5h-2.5zM476.4 261.2h2.5v2.5h-2.5zM477.9 260.5h2.5v2.5h-2.5zM479.4 261.5h2.5v2.5h-2.5zM480.8 260h2.5v2.5h-2.5zM482.2 260.7h2.5v2.5h-2.5zM483.6 259.8h2.5v2.5h-2.5zM486.1 259.9h2.5v2.5h-2.5zM487.6 260.4h2.5v2.5h-2.5zM488.9 259.2h2.5v2.5h-2.5zM490.2 260.5h2.5v2.5h-2.5zM491.5 259.1h2.5v2.5h-2.5zM492.8 260.3h2.5v2.5h-2.5zM494 259.1h2.5v2.5h-2.5zM495.6 259.8h2.5v2.5h-2.5zM497.7 260.3h2.5v2.5h-2.5zM498.9 259h2.5v2.5h-2.5zM500.1 259.9h2.5v2.5h-2.5zM501.2 259.3h2.5v2.5h-2.5zM502.4 259.7h2.5v2.5h-2.5zM503.5 259h2.5v2.5h-2.5zM505.2 259.4h2.5v2.5h-2.5zM506.9 259.6h2.5v2.5h-2.5zM507.9 258.7h2.5v2.5h-2.5zM509 259.9h2.5v2.5h-2.5zM510.1 258.8h2.5v2.5h-2.5zM511.1 259.9h2.5v2.5h-2.5zM512.2 258.8h2.5v2.5h-2.5zM514 259.4h2.5v2.5h-2.5z" fill="#111"/>
<polyline points="281.1,405.4 290.7,360.7 299.6,404.7 307.7,378.5 315.4,378.5 322.4,374.4 329,370.4 335.2,384.5 341.1,352.8 347.1,364 352,367.5 357.1,349.3 361.8,351 366.1,345 370.5,335.5 374.8,341.5 379.1,335.5 383.1,333.7 386.6,326.8 390.4,326.8 393.8,316 397.3,322.5 400.7,319 402.6,317.2 405.6,314.1 407.7,313.8 412,306.1 414.6,309.6 417.5,303.3 420.4,302.1 422.2,300.5 423.8,300.4 427.3,299.8 430.2,295.8 431.9,294.5 433.6,294.6 437.1,293.4 438.6,292.2 440,290 442.9,289.8 444.9,288 446.9,288.3 448.8,287.5 450.8,287.4 452.7,285.6 454.6,285.5 456.5,284.1 458.5,283.7 460,282.7 461.8,283.3 463.5,282 465.2,283.2 468.1,281.7 470,280.6 471.6,281.1 473.2,279.6 474.7,280.4 476.2,278.5 477.7,278.8 479.2,278 480.6,279.2 482,278.2 483.4,278.5 484.8,277.8 487.3,277.9 488.9,278.3 490.2,276.9 491.5,277.7 492.8,276.6 494,276.8 495.3,275.9 496.9,276 498.9,276.5 500.1,275 501.3,276.2 502.5,275 503.6,275.9 504.8,274.7 506.5,275 508.1,275.6 509.2,274.9 510.3,276 511.3,274.9 512.4,276.2 513.4,274.5 515.2,275.4" fill="none" stroke="#111" stroke-width="1.0" stroke-linejoin="round"/>
<path d="M279.7 403.9h2.9v2.9h-2.9zM289.2 359.2h2.9v2.9h-2.9zM298.2 403.2h2.9v2.9h-2.9zM306.2 377.1h2.9v2.9h-2.9zM313.9 377.1h2.9v2.9h-2.9zM320.9 372.9h2.9v2.9h-2.9zM327.6 368.9h2.9v2.9h-2.9zM333.8 383.1h2.9v2.9h-2.9zM339.7 351.4h2.9v2.9h-2.9zM345.7 362.6h2.9v2.9h-2.9zM350.6 366.1h2.9v2.9h-2.9zM355.7 347.9h2.9v2.9h-2.9zM360.4 349.6h2.9v2.9h-2.9zM364.7 343.6h2.9v2.9h-2.9zM369.1 334.1h2.9v2.9h-2.9zM373.4 340.1h2.9v2.9h-2.9zM377.7 334.1h2.9v2.9h-2.9zM381.7 332.2h2.9v2.9h-2.9zM385.2 325.4h2.9v2.9h-2.9zM388.9 325.4h2.9v2.9h-2.9zM392.4 314.6h2.9v2.9h-2.9zM395.9 321.1h2.9v2.9h-2.9zM399.2 317.6h2.9v2.9h-2.9zM401.1 315.8h2.9v2.9h-2.9zM404.2 312.7h2.9v2.9h-2.9zM406.2 312.4h2.9v2.9h-2.9zM410.6 304.7h2.9v2.9h-2.9zM413.2 308.2h2.9v2.9h-2.9zM416.1 301.9h2.9v2.9h-2.9zM418.9 300.7h2.9v2.9h-2.9zM420.7 299h2.9v2.9h-2.9zM422.4 298.9h2.9v2.9h-2.9zM425.9 298.4h2.9v2.9h-2.9zM428.8 294.4h2.9v2.9h-2.9zM430.4 293h2.9v2.9h-2.9zM432.2 293.2h2.9v2.9h-2.9zM435.7 291.9h2.9v2.9h-2.9zM437.2 290.7h2.9v2.9h-2.9zM438.6 288.6h2.9v2.9h-2.9zM441.4 288.3h2.9v2.9h-2.9zM443.5 286.5h2.9v2.9h-2.9zM445.5 286.8h2.9v2.9h-2.9zM447.4 286.1h2.9v2.9h-2.9zM449.4 286h2.9v2.9h-2.9zM451.3 284.1h2.9v2.9h-2.9zM453.2 284h2.9v2.9h-2.9zM455 282.7h2.9v2.9h-2.9zM457.1 282.2h2.9v2.9h-2.9zM458.6 281.2h2.9v2.9h-2.9zM460.3 281.9h2.9v2.9h-2.9zM462 280.5h2.9v2.9h-2.9zM463.7 281.7h2.9v2.9h-2.9zM466.7 280.2h2.9v2.9h-2.9zM468.6 279.1h2.9v2.9h-2.9zM470.2 279.6h2.9v2.9h-2.9zM471.7 278.2h2.9v2.9h-2.9zM473.3 278.9h2.9v2.9h-2.9zM474.8 277.1h2.9v2.9h-2.9zM476.2 277.4h2.9v2.9h-2.9zM477.7 276.6h2.9v2.9h-2.9zM479.2 277.7h2.9v2.9h-2.9zM480.6 276.7h2.9v2.9h-2.9zM482 277.1h2.9v2.9h-2.9zM483.4 276.3h2.9v2.9h-2.9zM485.9 276.4h2.9v2.9h-2.9zM487.4 276.9h2.9v2.9h-2.9zM488.7 275.5h2.9v2.9h-2.9zM490 276.2h2.9v2.9h-2.9zM491.3 275.2h2.9v2.9h-2.9zM492.6 275.3h2.9v2.9h-2.9zM493.8 274.5h2.9v2.9h-2.9zM495.4 274.6h2.9v2.9h-2.9zM497.5 275h2.9v2.9h-2.9zM498.7 273.5h2.9v2.9h-2.9zM499.9 274.8h2.9v2.9h-2.9zM501 273.6h2.9v2.9h-2.9zM502.2 274.4h2.9v2.9h-2.9zM503.3 273.2h2.9v2.9h-2.9zM505.1 273.6h2.9v2.9h-2.9zM506.7 274.1h2.9v2.9h-2.9zM507.7 273.4h2.9v2.9h-2.9zM508.8 274.5h2.9v2.9h-2.9zM509.9 273.4h2.9v2.9h-2.9zM510.9 274.7h2.9v2.9h-2.9zM512 273h2.9v2.9h-2.9zM513.8 273.9h2.9v2.9h-2.9z" fill="#111"/>
<polyline points="281.1,393.3 290.7,405.6 299.6,404.7 307.7,405.6 315.4,404.7 322.4,384.5 329,374.4 335.2,392.6 341.1,384.5 346.2,364 352,384.8 357.1,384.8 361.8,365.7 366.1,354.5 370.5,361.4 374.8,356.2 379.1,359.7 383.1,344.1 386.6,342.4 390,352.8 393.8,338.9 396.9,350.2 400.7,338.9 402.6,338.4 405.6,335.4 407.7,335.5 412,332.9 415.4,331.1 417.7,320.8 420.6,327.7 422.2,323.2 425.8,318.3 427.2,318.7 428.7,323.1 432,323 434.2,320.6 436.4,315.2 439.2,311.5 440.8,312.1 442.9,316.3 445,316.3 446.9,314.1 448.9,309.2 450.8,307.7 452.7,307.4 454.6,309.4 456.5,306.6 458.5,308.7 460,307.5 461.8,309 463.5,305.5 465.2,307.7 468.1,304.8 470,303.8 471.6,306.4 473,306 474.7,306.2 476.2,302.1 477.7,301.9 479.2,300.6 480.6,300.6 482,298.3 483.5,298.6 484.8,297.7 487.3,299 488.9,299.9 490.2,298.6 491.5,300.1 492.8,298.4 494,301 495.3,299 496.9,299.5 498.9,300.6 500.1,297.2 501.3,299.2 502.5,296.6 503.6,299.6 504.8,296.2 506.5,297.6 508.1,298.4 509.2,296.7 510.3,298.6 511.3,295.8 512.4,298.9 513.4,296.8 515.2,297.7" fill="none" stroke="#111" stroke-width="1.0" stroke-linejoin="round"/>
<path d="M280.1 392.3h2v2h-2zM289.7 404.6h2v2h-2zM298.6 403.7h2v2h-2zM306.7 404.6h2v2h-2zM314.4 403.7h2v2h-2zM321.4 383.5h2v2h-2zM328 373.4h2v2h-2zM334.2 391.6h2v2h-2zM340.1 383.5h2v2h-2zM345.2 363h2v2h-2zM351 383.8h2v2h-2zM356.1 383.8h2v2h-2zM360.8 364.7h2v2h-2zM365.1 353.5h2v2h-2zM369.5 360.4h2v2h-2zM373.8 355.2h2v2h-2zM378.1 358.7h2v2h-2zM382.1 343.1h2v2h-2zM385.6 341.4h2v2h-2zM389 351.8h2v2h-2zM392.8 337.9h2v2h-2zM395.9 349.2h2v2h-2zM399.7 337.9h2v2h-2zM401.6 337.4h2v2h-2zM404.6 334.4h2v2h-2zM406.7 334.5h2v2h-2zM411 331.9h2v2h-2zM414.4 330.1h2v2h-2zM416.7 319.8h2v2h-2zM419.6 326.7h2v2h-2zM421.2 322.2h2v2h-2zM424.8 317.3h2v2h-2zM426.2 317.7h2v2h-2zM427.7 322.1h2v2h-2zM431 322h2v2h-2zM433.2 319.6h2v2h-2zM435.4 314.2h2v2h-2zM438.2 310.5h2v2h-2zM439.8 311.1h2v2h-2zM441.9 315.3h2v2h-2zM444 315.3h2v2h-2zM445.9 313.1h2v2h-2zM447.9 308.2h2v2h-2zM449.8 306.7h2v2h-2zM451.7 306.4h2v2h-2zM453.6 308.4h2v2h-2zM455.5 305.6h2v2h-2zM457.5 307.7h2v2h-2zM459 306.5h2v2h-2zM460.8 308h2v2h-2zM462.5 304.5h2v2h-2zM464.2 306.7h2v2h-2zM467.1 303.8h2v2h-2zM469 302.8h2v2h-2zM470.6 305.4h2v2h-2zM472 305h2v2h-2zM473.7 305.2h2v2h-2zM475.2 301.1h2v2h-2zM476.7 300.9h2v2h-2zM478.2 299.6h2v2h-2zM479.6 299.6h2v2h-2zM481 297.3h2v2h-2zM482.5 297.6h2v2h-2zM483.8 296.7h2v2h-2zM486.3 298h2v2h-2zM487.9 298.9h2v2h-2zM489.2 297.6h2v2h-2zM490.5 299.1h2v2h-2zM491.8 297.4h2v2h-2zM493 300h2v2h-2zM494.3 298h2v2h-2zM495.9 298.5h2v2h-2zM497.9 299.6h2v2h-2zM499.1 296.2h2v2h-2zM500.3 298.2h2v2h-2zM501.5 295.6h2v2h-2zM502.6 298.6h2v2h-2zM503.8 295.2h2v2h-2zM505.5 296.6h2v2h-2zM507.1 297.4h2v2h-2zM508.2 295.7h2v2h-2zM509.3 297.6h2v2h-2zM510.3 294.8h2v2h-2zM511.4 297.9h2v2h-2zM512.4 295.8h2v2h-2zM514.2 296.7h2v2h-2z" fill="#111"/>
<polyline points="336.3,405 350.8,401.7 362.3,398.8 373.8,393.1 382.5,388.3 399.8,388.8 414.6,370.9 425,368.3 437,359 448.8,349 458.5,341.3 468.1,332.7 477.7,326 490.2,315.4" fill="none" stroke="#111" stroke-width="1.4" stroke-linejoin="round" stroke-dasharray="5 3.2"/>
<path d="M335.2 403.9h2.3v2.3h-2.3zM349.7 400.6h2.3v2.3h-2.3zM361.2 397.7h2.3v2.3h-2.3zM372.7 392h2.3v2.3h-2.3zM381.4 387.2h2.3v2.3h-2.3zM398.7 387.7h2.3v2.3h-2.3zM413.5 369.8h2.3v2.3h-2.3zM423.9 367.2h2.3v2.3h-2.3zM435.9 357.9h2.3v2.3h-2.3zM447.7 347.9h2.3v2.3h-2.3zM457.4 340.2h2.3v2.3h-2.3zM467 331.6h2.3v2.3h-2.3zM476.6 324.9h2.3v2.3h-2.3zM489.1 314.2h2.3v2.3h-2.3z" fill="#111"/>
<polyline points="18.1,607.2 28.4,585.8 36.5,607.2 45,607.2 52.2,593.8 60.4,593.8 65.8,607.2 72.7,585.8 78.4,585.4 84,585.8 89.5,606 94.5,583 99,574.2 103.8,565.4 108.5,572.3 112.3,570 116.2,580.3 120,554.6 123.8,554.6 127.7,559.2 131.5,549.2 135.4,552.3 137.6,550.4 140.8,548 144,555.3 147.5,539 149.7,537.4 151.5,536.5 156.4,532.9 158.1,534.9 161.4,524.7 163.1,524.3 165.5,522.2 168,519 169.6,516.4 172.9,514 174.5,510.7 177.1,507.7 178.7,504.9 182,500.7 183.5,499.2 185.5,498.2 188.1,495.8 189.5,493.4 191.3,489.2 193.3,486.8 196.2,482.7 198.8,480.2 201.1,478.6 203.9,477.5 205.6,475.2 207.7,474.5 210.5,473.1 212,470.9 213.4,470.4 215.1,468.8 216.6,469.3 219.1,467.2 221,465.8 222.4,466.1 223.8,464.7 225.7,463.9 227.9,463.6 229.2,462.1 230.5,462.6 232.2,461.4 234.4,460.5 235.6,461 236.9,460.3 238.1,460.9 240.4,459.8 242.8,459.7 244,459 245.1,459.6 246.9,459 248.4,458.5 249.5,459.3 250.6,457.9 251.7,458.8 252.7,457.9 254.2,458.2" fill="none" stroke="#111" stroke-width="1.25" stroke-linejoin="round"/>
<polyline points="45,607.2 52.2,593.8 59.6,601.5 65.8,607.2 72.7,593.8 78.1,607.2 84,607.2 89.2,606.6 94.2,601.7 98.5,593.8 103.1,593.8 107.7,607.2 112.3,595 116.2,586 120,579 123.8,570 127.7,576.2 130.8,573.1 134.6,580.8 137.7,606.2 140.7,595.3 143.3,585.5 146.6,577.3 150,580 153,573 156.4,569.1 158.5,567 160.5,571.2 162.3,575.4 165.4,563 169.2,572.3 172.3,563 174.6,550.8 176.9,558.5 178.7,560.9 181.1,551 183.5,549.4 186.1,548.5 187.5,545.4 189.3,543.6 191.4,539.2 194.3,534.5 197.6,537 200,527.5 202,522.5 204.4,521.9 207.5,519.4 210,517.5 212,516.1 213.8,515.6 215.1,512.8 216.9,511.3 220,508.8 222.5,505 225,501.9 227.5,500 229.2,497.1 230.6,496.6 233.1,495.9 234.4,494.4 235.6,494.4 237.1,493.3 239.3,491.4 240.5,491.2 241.6,489.6 243.6,488.4 245.1,487.8 246.2,486.2 248.5,485.1 250.6,483.6 251.7,484.7 252.7,482.5 254.2,482.7" fill="none" stroke="#111" stroke-width="0.9" stroke-linejoin="round"/>
<path d="M44 606.2h2v2h-2zM51.2 592.8h2v2h-2zM58.6 600.5h2v2h-2zM64.8 606.2h2v2h-2zM71.7 592.8h2v2h-2zM77.1 606.2h2v2h-2zM83 606.2h2v2h-2zM88.2 605.6h2v2h-2zM93.2 600.7h2v2h-2zM97.5 592.8h2v2h-2zM102.1 592.8h2v2h-2zM106.7 606.2h2v2h-2zM111.3 594h2v2h-2zM115.2 585h2v2h-2zM119 578h2v2h-2zM122.8 569h2v2h-2zM126.7 575.2h2v2h-2zM129.8 572.1h2v2h-2zM133.6 579.8h2v2h-2zM136.7 605.2h2v2h-2zM139.7 594.3h2v2h-2zM142.3 584.5h2v2h-2zM145.6 576.3h2v2h-2zM149 579h2v2h-2zM152 572h2v2h-2zM155.4 568.1h2v2h-2zM157.5 566h2v2h-2zM159.5 570.2h2v2h-2zM161.3 574.4h2v2h-2zM164.4 562h2v2h-2zM168.2 571.3h2v2h-2zM171.3 562h2v2h-2zM173.6 549.8h2v2h-2zM175.9 557.5h2v2h-2zM177.7 559.9h2v2h-2zM180.1 550h2v2h-2zM182.5 548.4h2v2h-2zM185.1 547.5h2v2h-2zM186.5 544.4h2v2h-2zM188.3 542.6h2v2h-2zM190.4 538.2h2v2h-2zM193.3 533.5h2v2h-2zM196.6 536h2v2h-2zM199 526.5h2v2h-2zM201 521.5h2v2h-2zM203.4 520.9h2v2h-2zM206.5 518.4h2v2h-2zM209 516.5h2v2h-2zM211 515.1h2v2h-2zM212.8 514.6h2v2h-2zM214.1 511.8h2v2h-2zM215.9 510.3h2v2h-2zM219 507.8h2v2h-2zM221.5 504h2v2h-2zM224 500.9h2v2h-2zM226.5 499h2v2h-2zM228.2 496.1h2v2h-2zM229.6 495.6h2v2h-2zM232.1 494.9h2v2h-2zM233.4 493.4h2v2h-2zM234.6 493.4h2v2h-2zM236.1 492.3h2v2h-2zM238.3 490.4h2v2h-2zM239.5 490.2h2v2h-2zM240.6 488.6h2v2h-2zM242.6 487.4h2v2h-2zM244.1 486.8h2v2h-2zM245.2 485.2h2v2h-2zM247.5 484.1h2v2h-2zM249.6 482.6h2v2h-2zM250.7 483.7h2v2h-2zM251.7 481.5h2v2h-2zM253.2 481.7h2v2h-2z" fill="#111"/>
<polyline points="98.5,607.2 103.1,607.2 107.7,607.2 112.3,607.2 116.2,607.2 120,607.2 123.8,606.4 127.4,602.6 130.8,593.8 135.4,593.8 137.7,607 140.7,607.7 143.8,607 146.9,577 149.2,607 153.1,607 155.4,593 157.9,599.4 161.5,607 163.1,605.1 166,600 168,595.2 171.6,585.4 174.8,580.6 176.9,607 180,607 181.4,600.5 183.5,588.5 185.3,580.6 187.5,575.9 189,593.9 191.2,575.9 193.3,607 195.1,591.4 197,567.4 198.6,573.8 200.7,573.2 202.2,572.8 203.9,573.8 206.5,563.7 207.6,559.6 210.3,553.8 212.9,562.2 215.1,551.6 217.7,559.6 220.3,543.7 223.5,552.7 225.2,550.1 226.7,546.3 229.3,542.1 232.5,535 234.4,534.9 235.6,537 237.5,537.5 239.3,532.3 241.3,527.5 242.8,527.7 245,526.9 247.5,520 250,524.4 251.7,524 253.1,522.5" fill="none" stroke="#111" stroke-width="1.0" stroke-linejoin="round"/>
<path d="M97.2 605.9h2.6v2.6h-2.6zM101.8 605.9h2.6v2.6h-2.6zM106.4 605.9h2.6v2.6h-2.6zM111 605.9h2.6v2.6h-2.6zM114.9 605.9h2.6v2.6h-2.6zM118.7 605.9h2.6v2.6h-2.6zM122.5 605.1h2.6v2.6h-2.6zM126.1 601.3h2.6v2.6h-2.6zM129.5 592.5h2.6v2.6h-2.6zM134.1 592.5h2.6v2.6h-2.6zM136.4 605.7h2.6v2.6h-2.6zM139.4 606.4h2.6v2.6h-2.6zM142.5 605.7h2.6v2.6h-2.6zM145.6 575.7h2.6v2.6h-2.6zM147.9 605.7h2.6v2.6h-2.6zM151.8 605.7h2.6v2.6h-2.6zM154.1 591.7h2.6v2.6h-2.6zM156.6 598.1h2.6v2.6h-2.6zM160.2 605.7h2.6v2.6h-2.6zM161.8 603.8h2.6v2.6h-2.6zM164.7 598.7h2.6v2.6h-2.6zM166.7 593.9h2.6v2.6h-2.6zM170.3 584.1h2.6v2.6h-2.6zM173.5 579.3h2.6v2.6h-2.6zM175.6 605.7h2.6v2.6h-2.6zM178.7 605.7h2.6v2.6h-2.6zM180.1 599.2h2.6v2.6h-2.6zM182.2 587.2h2.6v2.6h-2.6zM184 579.3h2.6v2.6h-2.6zM186.2 574.6h2.6v2.6h-2.6zM187.7 592.6h2.6v2.6h-2.6zM189.9 574.6h2.6v2.6h-2.6zM192 605.7h2.6v2.6h-2.6zM193.8 590.1h2.6v2.6h-2.6zM195.7 566.1h2.6v2.6h-2.6zM197.3 572.5h2.6v2.6h-2.6zM199.4 571.9h2.6v2.6h-2.6zM200.9 571.5h2.6v2.6h-2.6zM202.6 572.5h2.6v2.6h-2.6zM205.2 562.4h2.6v2.6h-2.6zM206.3 558.3h2.6v2.6h-2.6zM209 552.5h2.6v2.6h-2.6zM211.6 560.9h2.6v2.6h-2.6zM213.8 550.3h2.6v2.6h-2.6zM216.4 558.3h2.6v2.6h-2.6zM219 542.4h2.6v2.6h-2.6zM222.2 551.4h2.6v2.6h-2.6zM223.9 548.8h2.6v2.6h-2.6zM225.4 545h2.6v2.6h-2.6zM228 540.8h2.6v2.6h-2.6zM231.2 533.7h2.6v2.6h-2.6zM233.1 533.6h2.6v2.6h-2.6zM234.3 535.7h2.6v2.6h-2.6zM236.2 536.2h2.6v2.6h-2.6zM238 531h2.6v2.6h-2.6zM240 526.2h2.6v2.6h-2.6zM241.5 526.4h2.6v2.6h-2.6zM243.7 525.6h2.6v2.6h-2.6zM246.2 518.7h2.6v2.6h-2.6zM248.7 523.1h2.6v2.6h-2.6zM250.4 522.7h2.6v2.6h-2.6zM251.8 521.2h2.6v2.6h-2.6z" fill="#111"/>
<polyline points="160,607 165,593.9 172.1,593.9 174.8,593.9 177.4,607 182.7,593.9 188.5,593.9 192.8,607 201.3,593.8 207.5,593.8 210,572.5 211.9,593.8 213.8,580 216.9,580 219.4,606.3 220.6,595 221.9,606.3 223.1,580 225,593.8 226.9,606.3 228.8,580 231.3,587.5 234.4,595 236.9,606.3 240,595 242.5,580 245,585 246.3,606.3 248.8,585 250.6,576.3 251.9,595 252.5,606.3" fill="none" stroke="#111" stroke-width="0.8" stroke-linejoin="round"/>
<path d="M159 606h2v2h-2zM164 592.9h2v2h-2zM171.1 592.9h2v2h-2zM173.8 592.9h2v2h-2zM176.4 606h2v2h-2zM181.7 592.9h2v2h-2zM187.5 592.9h2v2h-2zM191.8 606h2v2h-2zM200.3 592.8h2v2h-2zM206.5 592.8h2v2h-2zM209 571.5h2v2h-2zM210.9 592.8h2v2h-2zM212.8 579h2v2h-2zM215.9 579h2v2h-2zM218.4 605.3h2v2h-2zM219.6 594h2v2h-2zM220.9 605.3h2v2h-2zM222.1 579h2v2h-2zM224 592.8h2v2h-2zM225.9 605.3h2v2h-2zM227.8 579h2v2h-2zM230.3 586.5h2v2h-2zM233.4 594h2v2h-2zM235.9 605.3h2v2h-2zM239 594h2v2h-2zM241.5 579h2v2h-2zM244 584h2v2h-2zM245.3 605.3h2v2h-2zM247.8 584h2v2h-2zM249.6 575.3h2v2h-2zM250.9 594h2v2h-2zM251.5 605.3h2v2h-2z" fill="#111"/>
<polyline points="213,607 216,594 219,607 229,607 232,594 235,607 243,607 246,594 249,607" fill="none" stroke="#111" stroke-width="0.8" stroke-linejoin="round"/>
<path d="M212.1 606.1h1.8v1.8h-1.8zM215.1 593.1h1.8v1.8h-1.8zM218.1 606.1h1.8v1.8h-1.8zM228.1 606.1h1.8v1.8h-1.8zM231.1 593.1h1.8v1.8h-1.8zM234.1 606.1h1.8v1.8h-1.8zM242.1 606.1h1.8v1.8h-1.8zM245.1 593.1h1.8v1.8h-1.8zM248.1 606.1h1.8v1.8h-1.8z" fill="#111"/>
<path d="M201.3 593.8H207.7" stroke="#111" stroke-width="2.6"/>
<polyline points="205,607 207.3,591.5 209.8,572.8 211.3,594 214.5,585.5 216.6,591.2 218,593 220,607 222.4,599.6 224,593 226.2,572.8 227.2,566.5 230.4,561.2 231.8,562.4 234.1,567 235.7,549.5 237.8,564.9 239.9,554.8 241.6,551.1 243.1,548.5 246.3,558 248.4,551.5 249.5,549.5 251,544.2 253.7,550.6" fill="none" stroke="#111" stroke-width="0.9" stroke-linejoin="round"/>
<path d="M203.9 605.9h2.2v2.2h-2.2zM206.2 590.4h2.2v2.2h-2.2zM208.7 571.7h2.2v2.2h-2.2zM210.2 592.9h2.2v2.2h-2.2zM213.4 584.4h2.2v2.2h-2.2zM215.5 590.1h2.2v2.2h-2.2zM216.9 591.9h2.2v2.2h-2.2zM218.9 605.9h2.2v2.2h-2.2zM221.3 598.5h2.2v2.2h-2.2zM222.9 591.9h2.2v2.2h-2.2zM225.1 571.7h2.2v2.2h-2.2zM226.1 565.4h2.2v2.2h-2.2zM229.3 560.1h2.2v2.2h-2.2zM230.7 561.3h2.2v2.2h-2.2zM233 565.9h2.2v2.2h-2.2zM234.6 548.4h2.2v2.2h-2.2zM236.7 563.8h2.2v2.2h-2.2zM238.8 553.7h2.2v2.2h-2.2zM240.5 550h2.2v2.2h-2.2zM242 547.4h2.2v2.2h-2.2zM245.2 556.9h2.2v2.2h-2.2zM247.3 550.4h2.2v2.2h-2.2zM248.4 548.4h2.2v2.2h-2.2zM249.9 543.1h2.2v2.2h-2.2zM252.6 549.5h2.2v2.2h-2.2z" fill="#111"/>
<polyline points="81.2,605.5 96.9,601.5 102.3,598.5 112.3,593.8 116.2,592.3 120,590 126.2,590 132.3,590 136.9,586.2 144.6,581.5 152.3,573.1 156.9,572.3 163,568 172.9,558.4 182.8,552.6 192.6,544.4 198.8,541.3 205,536.3 212.5,530 220,523.8 227.5,518.1" fill="none" stroke="#111" stroke-width="1.4" stroke-linejoin="round" stroke-dasharray="5 3.2"/>
<path d="M80 604.4h2.3v2.3h-2.3zM95.8 600.4h2.3v2.3h-2.3zM101.1 597.4h2.3v2.3h-2.3zM111.1 592.6h2.3v2.3h-2.3zM115 591.1h2.3v2.3h-2.3zM118.8 588.9h2.3v2.3h-2.3zM125 588.9h2.3v2.3h-2.3zM131.2 588.9h2.3v2.3h-2.3zM135.8 585.1h2.3v2.3h-2.3zM143.4 580.4h2.3v2.3h-2.3zM151.2 572h2.3v2.3h-2.3zM155.8 571.1h2.3v2.3h-2.3zM161.8 566.9h2.3v2.3h-2.3zM171.8 557.2h2.3v2.3h-2.3zM181.7 551.5h2.3v2.3h-2.3zM191.4 543.2h2.3v2.3h-2.3zM197.7 540.1h2.3v2.3h-2.3zM203.8 535.1h2.3v2.3h-2.3zM211.3 528.9h2.3v2.3h-2.3zM218.8 522.6h2.3v2.3h-2.3zM226.3 517h2.3v2.3h-2.3z" fill="#111"/>
<polyline points="280.5,578.8 290.5,551.2 299.2,546.2 307.5,539.5 315.2,546.2 322.3,547.4 328.9,540 335.1,532.3 340.9,526.9 346.5,531.5 352.3,519.5 356.4,519 361.1,515.8 366,504 370,498.9 374.3,494.8 378.1,490.4 382.5,485.7 385.7,486.5 389.2,484.4 392.5,477.5 396,476.6 399.8,473.8 402.4,472.4 405.4,468 407.2,467.4 411.3,463.9 414.5,461.9 416.8,461 419.4,460 422,456.5 423.6,455.5 427,453.5 429.3,454.3 430.9,452.8 434,452 436.2,449.4 438.4,449.9 440.1,448.2 443.2,447.3 444.7,446.4 446.7,447.2 448.7,445.9 451.3,445.6 454.4,446.2 456.3,444.9 458.1,446.1 459.5,445.1 461.6,445.7 463.3,444.4 465,445 467.7,444.5 469.8,444 471.4,445 473,443.4 475.8,444 477.5,444.3 479,443.7 480.4,444.6 481.8,443.3 484,444 486,444.6 487.4,443.8 488.7,445 490,444.2 492.2,444.5 493.8,445 495.1,444 496.3,445.6 497.5,444 498.7,445.6 500.4,444.8 502.3,444.2 503.4,445.1 504.6,444.2 505.7,445.6 506.8,443.8 508.5,444.5 510.1,445 511.1,444.4 512.2,445.2 513.2,444 514.3,445.3 515.9,444.8" fill="none" stroke="#111" stroke-width="1.3" stroke-linejoin="round"/>
<polyline points="280.7,593.3 290.3,607.4 299.2,607.5 307.5,594.5 315.2,606.9 322.3,593.8 328.9,606.9 335.1,593.8 340.9,606.9 346.2,590.8 351.6,548.8 356.6,572.3 361.4,551.5 365.9,564.8 370.3,559.3 374.4,548.8 378.4,544.4 382.2,546 386.3,540.4 390,524.5 392.7,521.4 396,519.4 399.3,514.7 402.5,512.1 405.4,513.2 408.4,511.6 410.8,505.8 414,502.6 417.2,498.5 419.4,496.9 422,492.9 425.4,490.3 427,488.8 429.3,488.4 431.8,485.7 434,484.9 436.2,481.6 438.4,481 440.1,479.3 443.2,475 444.7,473 446.7,473.4 448.7,470.7 451.3,470.1 454.4,469.3 456.3,467.8 458.1,468.4 459.5,466.9 461.6,466.7 463.3,464.6 465,465.7 467.7,464.1 469.8,463.2 471.4,463.5 473,462.1 475.8,462 477.5,462.3 479,460 480.4,460.9 481.8,459.6 484,459.5 486,459.6 487.4,457.9 488.7,459.1 490,458.3 492.2,458.2 493.8,458.3 495.1,457.4 496.3,458.9 497.5,456.7 498.7,458.5 500.4,457.5 502.3,456.3 503.4,458.4 504.6,456.8 505.7,457.6 506.8,456.1 508.5,457.1 510.1,458.1 511.1,457.1 512.2,458.3 513.2,457.1 514.3,458.3 515.9,457.9" fill="none" stroke="#111" stroke-width="1.4" stroke-linejoin="round"/>
<polyline points="280.7,607.4 290.3,585.9 299.2,586.2 307.7,565.4 315.2,586.2 322.3,573.1 328.9,555.4 335.1,565.4 340.9,556.9 346.4,580.2 351.6,580.2 356.6,573 361.4,580.2 365.9,580.2 370.3,594.5 374.4,594.5 378.4,563.1 383.1,573.5 386.3,566.2 390.3,556.5 393.6,563 396.8,554.1 399.3,556.6 401.7,560.6 405.7,546 408.4,551.4 411.3,548.8 413,544.4 417.8,542 419.4,540 422.7,533.9 424.5,534.7 427.5,533.9 429.3,528.9 430.7,522.6 434,522.5 435.6,521.8 439.6,520.2 442.9,515.3 444.7,513.1 447.7,513.7 450.9,507.3 452.5,506.1 455,505.7 458.1,502.9 459.5,500.4 461.6,500.1 463.3,496 465,496.9 467.7,493.8 469.8,492.1 471.4,492.5 473,489.8 475.8,488.9 477.5,489.5 479,486.7 480.4,487.4 481.8,484.4 484,484.8 486,484.4 487.4,482.6 488.7,484.3 490,481.2 492.2,481.6 493.8,481.4 495.1,480.2 496.3,480.6 497.5,478.3 498.7,480 500.4,478.8 502.3,477.2 503.4,479.7 504.6,477.2 505.7,478.4 506.8,476 508.5,477.2 510.1,478.2 511.1,476.4 512.2,478.2 513.2,476.2 514.3,477.5 515.9,476.7" fill="none" stroke="#111" stroke-width="1.1" stroke-linejoin="round"/>
<path d="M279.5 606.2h2.4v2.4h-2.4zM289.1 584.7h2.4v2.4h-2.4zM298.1 585h2.4v2.4h-2.4zM306.5 564.2h2.4v2.4h-2.4zM314 585h2.4v2.4h-2.4zM321.1 571.9h2.4v2.4h-2.4zM327.7 554.2h2.4v2.4h-2.4zM333.9 564.2h2.4v2.4h-2.4zM339.7 555.7h2.4v2.4h-2.4zM345.2 579h2.4v2.4h-2.4zM350.4 579h2.4v2.4h-2.4zM355.4 571.8h2.4v2.4h-2.4zM360.2 579h2.4v2.4h-2.4zM364.7 579h2.4v2.4h-2.4zM369.1 593.3h2.4v2.4h-2.4zM373.2 593.3h2.4v2.4h-2.4zM377.2 561.9h2.4v2.4h-2.4zM381.9 572.3h2.4v2.4h-2.4zM385.1 565h2.4v2.4h-2.4zM389.1 555.3h2.4v2.4h-2.4zM392.4 561.8h2.4v2.4h-2.4zM395.6 552.9h2.4v2.4h-2.4zM398.1 555.4h2.4v2.4h-2.4zM400.5 559.4h2.4v2.4h-2.4zM404.5 544.8h2.4v2.4h-2.4zM407.2 550.2h2.4v2.4h-2.4zM410.1 547.6h2.4v2.4h-2.4zM411.8 543.2h2.4v2.4h-2.4zM416.6 540.8h2.4v2.4h-2.4zM418.2 538.8h2.4v2.4h-2.4zM421.5 532.7h2.4v2.4h-2.4zM423.3 533.5h2.4v2.4h-2.4zM426.3 532.7h2.4v2.4h-2.4zM428.1 527.7h2.4v2.4h-2.4zM429.5 521.4h2.4v2.4h-2.4zM432.8 521.3h2.4v2.4h-2.4zM434.4 520.6h2.4v2.4h-2.4zM438.4 519h2.4v2.4h-2.4zM441.7 514.1h2.4v2.4h-2.4zM443.5 511.9h2.4v2.4h-2.4zM446.5 512.5h2.4v2.4h-2.4zM449.7 506.1h2.4v2.4h-2.4zM451.3 504.9h2.4v2.4h-2.4zM453.8 504.5h2.4v2.4h-2.4zM456.9 501.7h2.4v2.4h-2.4zM458.3 499.2h2.4v2.4h-2.4zM460.4 498.9h2.4v2.4h-2.4zM462.1 494.8h2.4v2.4h-2.4zM463.8 495.7h2.4v2.4h-2.4zM466.5 492.6h2.4v2.4h-2.4zM468.6 490.9h2.4v2.4h-2.4zM470.2 491.3h2.4v2.4h-2.4zM471.8 488.6h2.4v2.4h-2.4zM474.6 487.7h2.4v2.4h-2.4zM476.3 488.3h2.4v2.4h-2.4zM477.8 485.5h2.4v2.4h-2.4zM479.2 486.2h2.4v2.4h-2.4zM480.6 483.2h2.4v2.4h-2.4zM482.8 483.6h2.4v2.4h-2.4zM484.8 483.2h2.4v2.4h-2.4zM486.2 481.4h2.4v2.4h-2.4zM487.5 483.1h2.4v2.4h-2.4zM488.8 480h2.4v2.4h-2.4zM491 480.4h2.4v2.4h-2.4zM492.6 480.2h2.4v2.4h-2.4zM493.9 479h2.4v2.4h-2.4zM495.1 479.4h2.4v2.4h-2.4zM496.3 477.1h2.4v2.4h-2.4zM497.5 478.8h2.4v2.4h-2.4zM499.2 477.6h2.4v2.4h-2.4zM501.1 476h2.4v2.4h-2.4zM502.2 478.5h2.4v2.4h-2.4zM503.4 476h2.4v2.4h-2.4zM504.5 477.2h2.4v2.4h-2.4zM505.6 474.8h2.4v2.4h-2.4zM507.3 476h2.4v2.4h-2.4zM508.9 477h2.4v2.4h-2.4zM509.9 475.2h2.4v2.4h-2.4zM511 477h2.4v2.4h-2.4zM512 475h2.4v2.4h-2.4zM513.1 476.3h2.4v2.4h-2.4zM514.7 475.5h2.4v2.4h-2.4z" fill="#111"/>
<polyline points="335.1,606.9 340.9,593.4 346.4,580.2 351.6,607.5 356.6,593.8 361.2,580.6 365.8,607.5 370.6,607.5 375,607.5 378.1,607.1 382,608.9 386.3,607.5 389.2,609.2 392,607.5 396,608.8 398,607.5 403.1,607.5 406.5,561.4 408.9,571.9 411.3,566 413,564.6 416.8,563.7 418.6,559 422.7,564.6 424.5,562.2 425.9,559 429.9,549.3 431.7,549.6 433.2,551.7 437.2,551.7 439.6,538.8 442.9,541.2 444.7,536.7 446.1,536.3 448.7,536.2 450.1,538.8 452.5,529.9 455,530.7 457.9,524.7 459.8,525.7 461.2,528 463.3,523.4 466,519.1 468.2,520.5 470.8,519.9 473,515.2 475.7,511.8 477.5,512.6 479,509.5 480.5,509.4 481.8,506.8 483.2,508.5 485.4,505.3 487.4,503.3 488.7,506 490,502.9 491.8,503.7 493.8,503.5 495.1,501.3 496.7,501.3 498.7,500.5 499.9,497.1 501.5,497.3 503.4,498.4 504.6,497.7 506.4,498.9 507.9,499.3 509,496.5 511.2,495.7 513.2,495.6 515.3,496.5" fill="none" stroke="#111" stroke-width="1.1" stroke-linejoin="round"/>
<path d="M333.9 605.7h2.4v2.4h-2.4zM339.7 592.2h2.4v2.4h-2.4zM345.2 579h2.4v2.4h-2.4zM350.4 606.3h2.4v2.4h-2.4zM355.4 592.6h2.4v2.4h-2.4zM360 579.4h2.4v2.4h-2.4zM364.6 606.3h2.4v2.4h-2.4zM369.4 606.3h2.4v2.4h-2.4zM373.8 606.3h2.4v2.4h-2.4zM376.9 605.9h2.4v2.4h-2.4zM380.8 607.7h2.4v2.4h-2.4zM385.1 606.3h2.4v2.4h-2.4zM388 608h2.4v2.4h-2.4zM390.8 606.3h2.4v2.4h-2.4zM394.8 607.6h2.4v2.4h-2.4zM396.8 606.3h2.4v2.4h-2.4zM401.9 606.3h2.4v2.4h-2.4zM405.3 560.2h2.4v2.4h-2.4zM407.7 570.7h2.4v2.4h-2.4zM410.1 564.8h2.4v2.4h-2.4zM411.8 563.4h2.4v2.4h-2.4zM415.6 562.5h2.4v2.4h-2.4zM417.4 557.8h2.4v2.4h-2.4zM421.5 563.4h2.4v2.4h-2.4zM423.3 561h2.4v2.4h-2.4zM424.7 557.8h2.4v2.4h-2.4zM428.7 548.1h2.4v2.4h-2.4zM430.5 548.4h2.4v2.4h-2.4zM432 550.5h2.4v2.4h-2.4zM436 550.5h2.4v2.4h-2.4zM438.4 537.6h2.4v2.4h-2.4zM441.7 540h2.4v2.4h-2.4zM443.5 535.5h2.4v2.4h-2.4zM444.9 535.1h2.4v2.4h-2.4zM447.5 535h2.4v2.4h-2.4zM448.9 537.6h2.4v2.4h-2.4zM451.3 528.7h2.4v2.4h-2.4zM453.8 529.5h2.4v2.4h-2.4zM456.7 523.5h2.4v2.4h-2.4zM458.6 524.5h2.4v2.4h-2.4zM460 526.8h2.4v2.4h-2.4zM462.1 522.2h2.4v2.4h-2.4zM464.8 517.9h2.4v2.4h-2.4zM467 519.3h2.4v2.4h-2.4zM469.6 518.7h2.4v2.4h-2.4zM471.8 514h2.4v2.4h-2.4zM474.5 510.6h2.4v2.4h-2.4zM476.3 511.4h2.4v2.4h-2.4zM477.8 508.3h2.4v2.4h-2.4zM479.3 508.2h2.4v2.4h-2.4zM480.6 505.6h2.4v2.4h-2.4zM482 507.3h2.4v2.4h-2.4zM484.2 504.1h2.4v2.4h-2.4zM486.2 502.1h2.4v2.4h-2.4zM487.5 504.8h2.4v2.4h-2.4zM488.8 501.7h2.4v2.4h-2.4zM490.6 502.5h2.4v2.4h-2.4zM492.6 502.3h2.4v2.4h-2.4zM493.9 500.1h2.4v2.4h-2.4zM495.5 500.1h2.4v2.4h-2.4zM497.5 499.3h2.4v2.4h-2.4zM498.7 495.9h2.4v2.4h-2.4zM500.3 496.1h2.4v2.4h-2.4zM502.2 497.2h2.4v2.4h-2.4zM503.4 496.5h2.4v2.4h-2.4zM505.2 497.7h2.4v2.4h-2.4zM506.7 498.1h2.4v2.4h-2.4zM507.8 495.3h2.4v2.4h-2.4zM510 494.5h2.4v2.4h-2.4zM512 494.4h2.4v2.4h-2.4zM514.1 495.3h2.4v2.4h-2.4z" fill="#111"/>
<polyline points="366,607 370.2,607 375,595.3 378.2,606.6 382,606.6 386.3,585.6 389.5,606.6 392.8,580 396.8,580 400,592.9 403.3,606.6 405.4,606.3 409,606.6 411.3,597.2 414.6,585.6 416.8,596.2 418.6,606.6 421,606.6 423.5,593.7 427,582.4 428.3,580 432.4,572.7 434,578.1 435.6,580.8 438.8,569.5 440.6,581.3 442,593.7 444.7,579.2 446.1,572.7 448.5,562.7 451.5,576.4 454.7,557.9 456.3,559 457.9,561.1 459.8,565.7 462.8,574 466,564.3 469.2,554.6 471.4,551.1 473.3,546.5 476.5,557.9 478.9,543.3 480.4,547.4 482.2,549.8 484.6,542.1 486.2,538.5 488.6,549.8 490,545 491.8,540.1 495.1,544.9 498.3,536.8 499.9,534.7 502.4,533.6 504.6,533.4 506.4,535.2 507.9,533.7 509.6,529.6 511.1,529.3 512.2,532.4 513.2,530.5 515.3,532.8" fill="none" stroke="#111" stroke-width="0.9" stroke-linejoin="round"/>
<path d="M365.1 606.1h1.8v1.8h-1.8zM369.3 606.1h1.8v1.8h-1.8zM374.1 594.4h1.8v1.8h-1.8zM377.3 605.7h1.8v1.8h-1.8zM381.1 605.7h1.8v1.8h-1.8zM385.4 584.7h1.8v1.8h-1.8zM388.6 605.7h1.8v1.8h-1.8zM391.9 579.1h1.8v1.8h-1.8zM395.9 579.1h1.8v1.8h-1.8zM399.1 592h1.8v1.8h-1.8zM402.4 605.7h1.8v1.8h-1.8zM404.5 605.4h1.8v1.8h-1.8zM408.1 605.7h1.8v1.8h-1.8zM410.4 596.3h1.8v1.8h-1.8zM413.7 584.7h1.8v1.8h-1.8zM415.9 595.3h1.8v1.8h-1.8zM417.7 605.7h1.8v1.8h-1.8zM420.1 605.7h1.8v1.8h-1.8zM422.6 592.8h1.8v1.8h-1.8zM426.1 581.5h1.8v1.8h-1.8zM427.4 579.1h1.8v1.8h-1.8zM431.5 571.8h1.8v1.8h-1.8zM433.1 577.2h1.8v1.8h-1.8zM434.7 579.9h1.8v1.8h-1.8zM437.9 568.6h1.8v1.8h-1.8zM439.7 580.4h1.8v1.8h-1.8zM441.1 592.8h1.8v1.8h-1.8zM443.8 578.3h1.8v1.8h-1.8zM445.2 571.8h1.8v1.8h-1.8zM447.6 561.8h1.8v1.8h-1.8zM450.6 575.5h1.8v1.8h-1.8zM453.8 557h1.8v1.8h-1.8zM455.4 558.1h1.8v1.8h-1.8zM457 560.2h1.8v1.8h-1.8zM458.9 564.8h1.8v1.8h-1.8zM461.9 573.1h1.8v1.8h-1.8zM465.1 563.4h1.8v1.8h-1.8zM468.3 553.7h1.8v1.8h-1.8zM470.5 550.2h1.8v1.8h-1.8zM472.4 545.6h1.8v1.8h-1.8zM475.6 557h1.8v1.8h-1.8zM478 542.4h1.8v1.8h-1.8zM479.5 546.5h1.8v1.8h-1.8zM481.3 548.9h1.8v1.8h-1.8zM483.7 541.2h1.8v1.8h-1.8zM485.3 537.6h1.8v1.8h-1.8zM487.7 548.9h1.8v1.8h-1.8zM489.1 544.1h1.8v1.8h-1.8zM490.9 539.2h1.8v1.8h-1.8zM494.2 544h1.8v1.8h-1.8zM497.4 535.9h1.8v1.8h-1.8zM499 533.8h1.8v1.8h-1.8zM501.5 532.7h1.8v1.8h-1.8zM503.7 532.5h1.8v1.8h-1.8zM505.5 534.3h1.8v1.8h-1.8zM507 532.8h1.8v1.8h-1.8zM508.7 528.7h1.8v1.8h-1.8zM510.2 528.4h1.8v1.8h-1.8zM511.3 531.5h1.8v1.8h-1.8zM512.3 529.6h1.8v1.8h-1.8zM514.4 531.9h1.8v1.8h-1.8z" fill="#111"/>
<polyline points="344.6,604.6 353.8,603.1 363.1,600 370.8,596.2 376.6,592.5 386.3,588 397.6,582.8 407.3,576.7 417,572.7 426.7,569.5 433.2,564.6 441.2,557.4 449.3,551.7 455,547.7 461.2,540.1 469.2,533.6 477.3,527.2 483.8,522.3 491,517.5" fill="none" stroke="#111" stroke-width="1.7" stroke-linejoin="round" stroke-dasharray="6 3"/>
<path d="M343.5 603.5h2.3v2.3h-2.3zM352.7 602h2.3v2.3h-2.3zM362 598.9h2.3v2.3h-2.3zM369.7 595.1h2.3v2.3h-2.3zM375.5 591.4h2.3v2.3h-2.3zM385.2 586.9h2.3v2.3h-2.3zM396.5 581.6h2.3v2.3h-2.3zM406.2 575.6h2.3v2.3h-2.3zM415.9 571.6h2.3v2.3h-2.3zM425.6 568.4h2.3v2.3h-2.3zM432.1 563.5h2.3v2.3h-2.3zM440.1 556.2h2.3v2.3h-2.3zM448.2 550.6h2.3v2.3h-2.3zM453.9 546.6h2.3v2.3h-2.3zM460.1 539h2.3v2.3h-2.3zM468.1 532.5h2.3v2.3h-2.3zM476.2 526.1h2.3v2.3h-2.3zM482.7 521.1h2.3v2.3h-2.3zM489.9 516.4h2.3v2.3h-2.3z" fill="#111"/>
<text x="3.4" y="16.4" font-size="16.8" font-weight="bold">Annual incidence per 10<tspan font-size="12.6" dx="-0.3" dy="-6.3">7</tspan></text>
<text x="27" y="63.8" font-size="13" text-anchor="start" font-weight="normal">fission=0.6</text>
<text x="292" y="63.8" font-size="13" text-anchor="start" font-weight="normal">fission=0.8</text>
<text x="27" y="274.2" font-size="13" text-anchor="start" font-weight="normal">fission=0.4</text>
<text x="292.2" y="274.2" font-size="13" text-anchor="start" font-weight="normal">fission=0.6</text>
<text x="27" y="477.8" font-size="13" text-anchor="start" font-weight="normal">fission=0.2</text>
<text x="292.2" y="477.8" font-size="13" text-anchor="start" font-weight="normal">fission=0.4</text>
<text x="2.1" y="63.8" font-size="13.3" textLength="10.1" lengthAdjust="spacingAndGlyphs" style="stroke-width:0.2px">10</text>
<text x="12.4" y="58.5" font-size="8.6" textLength="3.4" lengthAdjust="spacingAndGlyphs">3</text>
<text x="2.1" y="107.8" font-size="13.3" textLength="10.1" lengthAdjust="spacingAndGlyphs" style="stroke-width:0.2px">10</text>
<text x="12.4" y="102.5" font-size="8.6" textLength="3.4" lengthAdjust="spacingAndGlyphs">2</text>
<text x="2.1" y="152.8" font-size="13.3" textLength="10.1" lengthAdjust="spacingAndGlyphs" style="stroke-width:0.2px">10</text>
<text x="12.4" y="147.5" font-size="8.6" textLength="3.4" lengthAdjust="spacingAndGlyphs">1</text>
<text x="2.1" y="193.9" font-size="13.3" textLength="10.1" lengthAdjust="spacingAndGlyphs" style="stroke-width:0.2px">10</text>
<text x="12.4" y="188.6" font-size="8.6" textLength="3.4" lengthAdjust="spacingAndGlyphs">0</text>
<text x="265.3" y="63.8" font-size="13.3" textLength="10.8" lengthAdjust="spacingAndGlyphs" style="stroke-width:0.2px">10</text>
<text x="276.3" y="58.5" font-size="8.6" textLength="3.4" lengthAdjust="spacingAndGlyphs">3</text>
<text x="265.3" y="108.4" font-size="13.3" textLength="10.8" lengthAdjust="spacingAndGlyphs" style="stroke-width:0.2px">10</text>
<text x="276.3" y="103.1" font-size="8.6" textLength="3.4" lengthAdjust="spacingAndGlyphs">2</text>
<text x="265.3" y="152.6" font-size="13.3" textLength="10.8" lengthAdjust="spacingAndGlyphs" style="stroke-width:0.2px">10</text>
<text x="276.3" y="147.3" font-size="8.6" textLength="3.4" lengthAdjust="spacingAndGlyphs">1</text>
<text x="265.3" y="194.2" font-size="13.3" textLength="10.8" lengthAdjust="spacingAndGlyphs" style="stroke-width:0.2px">10</text>
<text x="276.3" y="188.9" font-size="8.6" textLength="3.4" lengthAdjust="spacingAndGlyphs">0</text>
<text x="3.2" y="275.4" font-size="13.3" textLength="10.9" lengthAdjust="spacingAndGlyphs" style="stroke-width:0.2px">10</text>
<text x="14.3" y="270.1" font-size="8.6" textLength="3.4" lengthAdjust="spacingAndGlyphs">3</text>
<text x="3.2" y="320.8" font-size="13.3" textLength="10.9" lengthAdjust="spacingAndGlyphs" style="stroke-width:0.2px">10</text>
<text x="14.3" y="315.5" font-size="8.6" textLength="3.4" lengthAdjust="spacingAndGlyphs">2</text>
<text x="3.2" y="365.2" font-size="13.3" textLength="10.9" lengthAdjust="spacingAndGlyphs" style="stroke-width:0.2px">10</text>
<text x="14.3" y="359.9" font-size="8.6" textLength="3.4" lengthAdjust="spacingAndGlyphs">1</text>
<text x="3.2" y="406.6" font-size="13.3" textLength="10.9" lengthAdjust="spacingAndGlyphs" style="stroke-width:0.2px">10</text>
<text x="14.3" y="401.3" font-size="8.6" textLength="3.4" lengthAdjust="spacingAndGlyphs">0</text>
<text x="265.6" y="275.6" font-size="13.3" textLength="10.8" lengthAdjust="spacingAndGlyphs" style="stroke-width:0.2px">10</text>
<text x="276.6" y="270.3" font-size="8.6" textLength="3.4" lengthAdjust="spacingAndGlyphs">3</text>
<text x="265.6" y="320.4" font-size="13.3" textLength="10.8" lengthAdjust="spacingAndGlyphs" style="stroke-width:0.2px">10</text>
<text x="276.6" y="315.1" font-size="8.6" textLength="3.4" lengthAdjust="spacingAndGlyphs">2</text>
<text x="265.6" y="364.7" font-size="13.3" textLength="10.8" lengthAdjust="spacingAndGlyphs" style="stroke-width:0.2px">10</text>
<text x="276.6" y="359.4" font-size="8.6" textLength="3.4" lengthAdjust="spacingAndGlyphs">1</text>
<text x="265.6" y="405.7" font-size="13.3" textLength="10.8" lengthAdjust="spacingAndGlyphs" style="stroke-width:0.2px">10</text>
<text x="276.6" y="400.4" font-size="8.6" textLength="3.4" lengthAdjust="spacingAndGlyphs">0</text>
<text x="2.6" y="478.8" font-size="13.3" textLength="10.1" lengthAdjust="spacingAndGlyphs" style="stroke-width:0.2px">10</text>
<text x="12.9" y="473.5" font-size="8.6" textLength="3.4" lengthAdjust="spacingAndGlyphs">3</text>
<text x="2.6" y="523.6" font-size="13.3" textLength="10.1" lengthAdjust="spacingAndGlyphs" style="stroke-width:0.2px">10</text>
<text x="12.9" y="518.3" font-size="8.6" textLength="3.4" lengthAdjust="spacingAndGlyphs">2</text>
<text x="2.6" y="567.6" font-size="13.3" textLength="10.1" lengthAdjust="spacingAndGlyphs" style="stroke-width:0.2px">10</text>
<text x="12.9" y="562.3" font-size="8.6" textLength="3.4" lengthAdjust="spacingAndGlyphs">1</text>
<text x="2.6" y="609.2" font-size="13.3" textLength="10.1" lengthAdjust="spacingAndGlyphs" style="stroke-width:0.2px">10</text>
<text x="12.9" y="603.9" font-size="8.6" textLength="3.4" lengthAdjust="spacingAndGlyphs">0</text>
<text x="265.3" y="478.6" font-size="13.3" textLength="10.8" lengthAdjust="spacingAndGlyphs" style="stroke-width:0.2px">10</text>
<text x="276.3" y="473.3" font-size="8.6" textLength="3.4" lengthAdjust="spacingAndGlyphs">3</text>
<text x="265.3" y="523.2" font-size="13.3" textLength="10.8" lengthAdjust="spacingAndGlyphs" style="stroke-width:0.2px">10</text>
<text x="276.3" y="517.9" font-size="8.6" textLength="3.4" lengthAdjust="spacingAndGlyphs">2</text>
<text x="265.3" y="567.4" font-size="13.3" textLength="10.8" lengthAdjust="spacingAndGlyphs" style="stroke-width:0.2px">10</text>
<text x="276.3" y="562.1" font-size="8.6" textLength="3.4" lengthAdjust="spacingAndGlyphs">1</text>
<text x="265.3" y="609.3" font-size="13.3" textLength="10.8" lengthAdjust="spacingAndGlyphs" style="stroke-width:0.2px">10</text>
<text x="276.3" y="604" font-size="8.6" textLength="3.4" lengthAdjust="spacingAndGlyphs">0</text>
<text x="16.6" y="208.4" font-size="13.3" text-anchor="middle" font-weight="normal" textLength="10" lengthAdjust="spacingAndGlyphs">10</text>
<text x="89.2" y="208.4" font-size="13.3" text-anchor="middle" font-weight="normal">20</text>
<text x="161.4" y="208.4" font-size="13.3" text-anchor="middle" font-weight="normal">40</text>
<text x="201.7" y="208.4" font-size="13.3" text-anchor="middle" font-weight="normal">60</text>
<text x="233" y="208.4" font-size="13.3" text-anchor="middle" font-weight="normal">80</text>
<text x="257.3" y="208.4" font-size="13.3" text-anchor="middle" font-weight="normal" textLength="15.4" lengthAdjust="spacingAndGlyphs">100</text>
<text x="281" y="208.4" font-size="13.3" text-anchor="middle" font-weight="normal" textLength="10" lengthAdjust="spacingAndGlyphs">10</text>
<text x="349" y="208.4" font-size="13.3" text-anchor="middle" font-weight="normal">20</text>
<text x="420.8" y="208.4" font-size="13.3" text-anchor="middle" font-weight="normal">40</text>
<text x="461.5" y="208.4" font-size="13.3" text-anchor="middle" font-weight="normal">60</text>
<text x="488.7" y="208.4" font-size="13.3" text-anchor="middle" font-weight="normal">80</text>
<text x="21" y="420" font-size="13.3" text-anchor="middle" font-weight="normal" textLength="10" lengthAdjust="spacingAndGlyphs">10</text>
<text x="89.8" y="420" font-size="13.3" text-anchor="middle" font-weight="normal">20</text>
<text x="161.4" y="420" font-size="13.3" text-anchor="middle" font-weight="normal">40</text>
<text x="203.3" y="420" font-size="13.3" text-anchor="middle" font-weight="normal">60</text>
<text x="232.9" y="420" font-size="13.3" text-anchor="middle" font-weight="normal">80</text>
<text x="257.2" y="420" font-size="13.3" text-anchor="middle" font-weight="normal" textLength="15.4" lengthAdjust="spacingAndGlyphs">100</text>
<text x="281" y="420" font-size="13.3" text-anchor="middle" font-weight="normal" textLength="10" lengthAdjust="spacingAndGlyphs">10</text>
<text x="349.5" y="420" font-size="13.3" text-anchor="middle" font-weight="normal">20</text>
<text x="420.8" y="420" font-size="13.3" text-anchor="middle" font-weight="normal">40</text>
<text x="461.5" y="420" font-size="13.3" text-anchor="middle" font-weight="normal">60</text>
<text x="488.7" y="420" font-size="13.3" text-anchor="middle" font-weight="normal">80</text>
<text x="18" y="621.4" font-size="13.3" text-anchor="middle" font-weight="normal" textLength="10" lengthAdjust="spacingAndGlyphs">10</text>
<text x="89.6" y="621.4" font-size="13.3" text-anchor="middle" font-weight="normal">20</text>
<text x="161" y="621.4" font-size="13.3" text-anchor="middle" font-weight="normal">40</text>
<text x="202" y="621.4" font-size="13.3" text-anchor="middle" font-weight="normal">60</text>
<text x="231.9" y="621.4" font-size="13.3" text-anchor="middle" font-weight="normal">80</text>
<text x="281" y="621.4" font-size="13.3" text-anchor="middle" font-weight="normal" textLength="10" lengthAdjust="spacingAndGlyphs">10</text>
<text x="349.5" y="621.4" font-size="13.3" text-anchor="middle" font-weight="normal">20</text>
<text x="420.8" y="621.4" font-size="13.3" text-anchor="middle" font-weight="normal">40</text>
<text x="461.5" y="621.4" font-size="13.3" text-anchor="middle" font-weight="normal">60</text>
<text x="488.7" y="621.4" font-size="13.3" text-anchor="middle" font-weight="normal">80</text>
<text x="120.9" y="644.3" font-size="13.1" text-anchor="middle" font-weight="normal">Haemopoiesis maintained by</text>
<text x="121" y="657.6" font-size="13.1" text-anchor="middle" font-weight="normal">18 cells/year</text>
<text x="393.2" y="644.3" font-size="13.1" text-anchor="middle" font-weight="normal">Haemopoiesis maintained by</text>
<text x="393.8" y="657.6" font-size="13.1" text-anchor="middle" font-weight="normal">36 cells/year</text>
<text x="275.3" y="674.8" font-size="16" text-anchor="middle" font-weight="bold">Age, y</text>
</svg>
</body></html>
